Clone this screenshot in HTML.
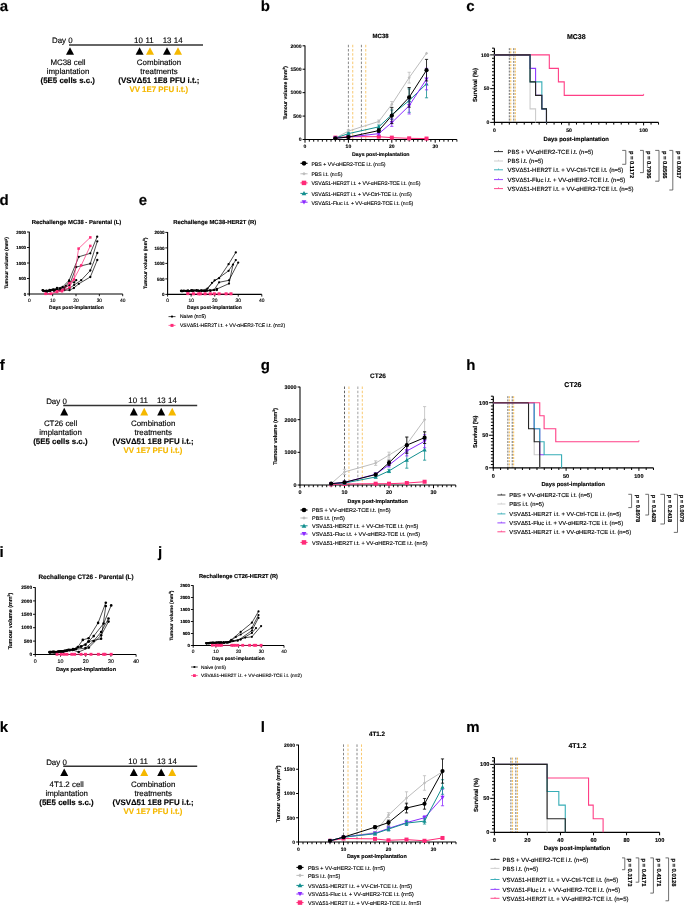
<!DOCTYPE html>
<html><head><meta charset="utf-8"><title>Figure</title>
<style>
html,body{margin:0;padding:0;background:#fff;}
body{width:685px;height:905px;overflow:hidden;}
svg text{stroke:currentColor;stroke-width:0.14px;}
svg{display:block;font-family:"Liberation Sans",sans-serif;will-change:transform;text-rendering:geometricPrecision;}
</style></head><body>
<svg width="685" height="905" viewBox="0 0 685 905">
<rect width="685" height="905" fill="#fff"/>
<text x="-0.3" y="10.8" font-size="15" font-weight="bold">a</text>
<text x="260.8" y="10.8" font-size="15" font-weight="bold">b</text>
<text x="466.3" y="10.8" font-size="15" font-weight="bold">c</text>
<text x="-0.6" y="204.5" font-size="15" font-weight="bold">d</text>
<text x="138.8" y="204.7" font-size="15" font-weight="bold">e</text>
<text x="-0.3" y="370" font-size="15" font-weight="bold">f</text>
<text x="260.8" y="370" font-size="15" font-weight="bold">g</text>
<text x="466.3" y="370" font-size="15" font-weight="bold">h</text>
<text x="-0.6" y="557" font-size="15" font-weight="bold">i</text>
<text x="158" y="557" font-size="15" font-weight="bold">j</text>
<text x="-0.3" y="731.6" font-size="15" font-weight="bold">k</text>
<text x="260.8" y="731.6" font-size="15" font-weight="bold">l</text>
<text x="466.3" y="731.6" font-size="15" font-weight="bold">m</text>
<line x1="69" y1="45" x2="203" y2="45" stroke="#333333" stroke-width="1.5"/>
<text x="72.6" y="43.4" font-size="7.9" text-anchor="end">Day 0</text>
<text x="138.5" y="42.6" font-size="7.9" text-anchor="middle">10</text>
<text x="149.6" y="42.6" font-size="7.9" text-anchor="middle">11</text>
<text x="167.1" y="42.6" font-size="7.9" text-anchor="middle">13</text>
<text x="178.2" y="42.6" font-size="7.9" text-anchor="middle">14</text>
<polygon points="70,47.2 74,54.8 66,54.8" fill="#000"/>
<polygon points="139.6,47.2 143.6,54.8 135.6,54.8" fill="#000"/>
<polygon points="150,47.2 154,54.8 146,54.8" fill="#f5b800"/>
<polygon points="167,47.2 171,54.8 163,54.8" fill="#000"/>
<polygon points="178,47.2 182,54.8 174,54.8" fill="#f5b800"/>
<text x="68" y="65.4" font-size="7.9" text-anchor="middle">MC38 cell</text>
<text x="68" y="74.4" font-size="7.9" text-anchor="middle">implantation</text>
<text x="67.8" y="83.4" font-size="7.9" font-weight="bold" text-anchor="middle">(5E5 cells s.c.)</text>
<text x="159" y="65.2" font-size="7.9" text-anchor="middle">Combination</text>
<text x="159" y="74.4" font-size="7.9" text-anchor="middle">treatments</text>
<text x="158.9" y="83.4" font-size="7.9" font-weight="bold" text-anchor="middle">(VSVΔ51 1E8 PFU i.t.;</text>
<text x="158.8" y="92.4" font-size="7.9" font-weight="bold" text-anchor="middle" fill="#f5b800" style="color:#f5b800">VV 1E7 PFU i.t.)</text>
<line x1="63.2" y1="405.6" x2="197.2" y2="405.6" stroke="#333333" stroke-width="1.5"/>
<text x="66.8" y="404" font-size="7.9" text-anchor="end">Day 0</text>
<text x="132.7" y="403.2" font-size="7.9" text-anchor="middle">10</text>
<text x="143.8" y="403.2" font-size="7.9" text-anchor="middle">11</text>
<text x="161.3" y="403.2" font-size="7.9" text-anchor="middle">13</text>
<text x="172.4" y="403.2" font-size="7.9" text-anchor="middle">14</text>
<polygon points="64.2,407.8 68.2,415.4 60.2,415.4" fill="#000"/>
<polygon points="133.8,407.8 137.8,415.4 129.8,415.4" fill="#000"/>
<polygon points="144.2,407.8 148.2,415.4 140.2,415.4" fill="#f5b800"/>
<polygon points="161.2,407.8 165.2,415.4 157.2,415.4" fill="#000"/>
<polygon points="172.2,407.8 176.2,415.4 168.2,415.4" fill="#f5b800"/>
<text x="60.6" y="426" font-size="7.9" text-anchor="middle">CT26 cell</text>
<text x="60.6" y="435" font-size="7.9" text-anchor="middle">implantation</text>
<text x="60.4" y="444" font-size="7.9" font-weight="bold" text-anchor="middle">(5E5 cells s.c.)</text>
<text x="153.2" y="425.8" font-size="7.9" text-anchor="middle">Combination</text>
<text x="153.2" y="435" font-size="7.9" text-anchor="middle">treatments</text>
<text x="153.1" y="444" font-size="7.9" font-weight="bold" text-anchor="middle">(VSVΔ51 1E8 PFU i.t.;</text>
<text x="153" y="453" font-size="7.9" font-weight="bold" text-anchor="middle" fill="#f5b800" style="color:#f5b800">VV 1E7 PFU i.t.)</text>
<line x1="63.2" y1="766.3" x2="197.2" y2="766.3" stroke="#333333" stroke-width="1.5"/>
<text x="66.8" y="764.7" font-size="7.9" text-anchor="end">Day 0</text>
<text x="132.7" y="763.9" font-size="7.9" text-anchor="middle">10</text>
<text x="143.8" y="763.9" font-size="7.9" text-anchor="middle">11</text>
<text x="161.3" y="763.9" font-size="7.9" text-anchor="middle">13</text>
<text x="172.4" y="763.9" font-size="7.9" text-anchor="middle">14</text>
<polygon points="64.2,768.5 68.2,776.1 60.2,776.1" fill="#000"/>
<polygon points="133.8,768.5 137.8,776.1 129.8,776.1" fill="#000"/>
<polygon points="144.2,768.5 148.2,776.1 140.2,776.1" fill="#f5b800"/>
<polygon points="161.2,768.5 165.2,776.1 157.2,776.1" fill="#000"/>
<polygon points="172.2,768.5 176.2,776.1 168.2,776.1" fill="#f5b800"/>
<text x="66.7" y="786.7" font-size="7.9" text-anchor="middle">4T1.2 cell</text>
<text x="66.7" y="795.7" font-size="7.9" text-anchor="middle">implantation</text>
<text x="66.5" y="804.7" font-size="7.9" font-weight="bold" text-anchor="middle">(5E5 cells s.c.)</text>
<text x="153.2" y="786.5" font-size="7.9" text-anchor="middle">Combination</text>
<text x="153.2" y="795.7" font-size="7.9" text-anchor="middle">treatments</text>
<text x="153.1" y="804.7" font-size="7.9" font-weight="bold" text-anchor="middle">(VSVΔ51 1E8 PFU i.t.;</text>
<text x="153" y="813.7" font-size="7.9" font-weight="bold" text-anchor="middle" fill="#f5b800" style="color:#f5b800">VV 1E7 PFU i.t.)</text>
<line x1="348.4" y1="44.8" x2="348.4" y2="139.5" stroke="#555555" stroke-width="0.7" stroke-dasharray="2.5,1.7"/>
<line x1="352.74" y1="44.8" x2="352.74" y2="139.5" stroke="#f7b233" stroke-width="0.7" stroke-dasharray="2.5,1.7"/>
<line x1="361.42" y1="44.8" x2="361.42" y2="139.5" stroke="#555555" stroke-width="0.7" stroke-dasharray="2.5,1.7"/>
<line x1="365.76" y1="44.8" x2="365.76" y2="139.5" stroke="#f7b233" stroke-width="0.7" stroke-dasharray="2.5,1.7"/>
<line x1="305" y1="45.5" x2="305" y2="140.03" stroke="#000000" stroke-width="1.05"/>
<line x1="302.6" y1="139.5" x2="305" y2="139.5" stroke="#000000" stroke-width="1"/>
<text x="301.6" y="141.3" font-size="5" font-weight="bold" text-anchor="end">0</text>
<line x1="302.6" y1="116.08" x2="305" y2="116.08" stroke="#000000" stroke-width="1"/>
<text x="301.6" y="117.88" font-size="5" font-weight="bold" text-anchor="end">500</text>
<line x1="302.6" y1="92.65" x2="305" y2="92.65" stroke="#000000" stroke-width="1"/>
<text x="301.6" y="94.45" font-size="5" font-weight="bold" text-anchor="end">1000</text>
<line x1="302.6" y1="69.22" x2="305" y2="69.22" stroke="#000000" stroke-width="1"/>
<text x="301.6" y="71.02" font-size="5" font-weight="bold" text-anchor="end">1500</text>
<line x1="302.6" y1="45.8" x2="305" y2="45.8" stroke="#000000" stroke-width="1"/>
<text x="301.6" y="47.6" font-size="5" font-weight="bold" text-anchor="end">2000</text>
<line x1="304.48" y1="139.5" x2="456.9" y2="139.5" stroke="#000000" stroke-width="1.05"/>
<line x1="305" y1="139.5" x2="305" y2="142.7" stroke="#000000" stroke-width="1"/>
<text x="305" y="148.3" font-size="5" font-weight="bold" text-anchor="middle">0</text>
<line x1="309.34" y1="139.5" x2="309.34" y2="141.7" stroke="#000000" stroke-width="0.95"/>
<line x1="313.68" y1="139.5" x2="313.68" y2="141.7" stroke="#000000" stroke-width="0.95"/>
<line x1="318.02" y1="139.5" x2="318.02" y2="141.7" stroke="#000000" stroke-width="0.95"/>
<line x1="322.36" y1="139.5" x2="322.36" y2="141.7" stroke="#000000" stroke-width="0.95"/>
<line x1="326.7" y1="139.5" x2="326.7" y2="141.7" stroke="#000000" stroke-width="0.95"/>
<line x1="331.04" y1="139.5" x2="331.04" y2="141.7" stroke="#000000" stroke-width="0.95"/>
<line x1="335.38" y1="139.5" x2="335.38" y2="141.7" stroke="#000000" stroke-width="0.95"/>
<line x1="339.72" y1="139.5" x2="339.72" y2="141.7" stroke="#000000" stroke-width="0.95"/>
<line x1="344.06" y1="139.5" x2="344.06" y2="141.7" stroke="#000000" stroke-width="0.95"/>
<line x1="348.4" y1="139.5" x2="348.4" y2="142.7" stroke="#000000" stroke-width="1"/>
<text x="348.4" y="148.3" font-size="5" font-weight="bold" text-anchor="middle">10</text>
<line x1="352.74" y1="139.5" x2="352.74" y2="141.7" stroke="#000000" stroke-width="0.95"/>
<line x1="357.08" y1="139.5" x2="357.08" y2="141.7" stroke="#000000" stroke-width="0.95"/>
<line x1="361.42" y1="139.5" x2="361.42" y2="141.7" stroke="#000000" stroke-width="0.95"/>
<line x1="365.76" y1="139.5" x2="365.76" y2="141.7" stroke="#000000" stroke-width="0.95"/>
<line x1="370.1" y1="139.5" x2="370.1" y2="141.7" stroke="#000000" stroke-width="0.95"/>
<line x1="374.44" y1="139.5" x2="374.44" y2="141.7" stroke="#000000" stroke-width="0.95"/>
<line x1="378.78" y1="139.5" x2="378.78" y2="141.7" stroke="#000000" stroke-width="0.95"/>
<line x1="383.12" y1="139.5" x2="383.12" y2="141.7" stroke="#000000" stroke-width="0.95"/>
<line x1="387.46" y1="139.5" x2="387.46" y2="141.7" stroke="#000000" stroke-width="0.95"/>
<line x1="391.8" y1="139.5" x2="391.8" y2="142.7" stroke="#000000" stroke-width="1"/>
<text x="391.8" y="148.3" font-size="5" font-weight="bold" text-anchor="middle">20</text>
<line x1="396.14" y1="139.5" x2="396.14" y2="141.7" stroke="#000000" stroke-width="0.95"/>
<line x1="400.48" y1="139.5" x2="400.48" y2="141.7" stroke="#000000" stroke-width="0.95"/>
<line x1="404.82" y1="139.5" x2="404.82" y2="141.7" stroke="#000000" stroke-width="0.95"/>
<line x1="409.16" y1="139.5" x2="409.16" y2="141.7" stroke="#000000" stroke-width="0.95"/>
<line x1="413.5" y1="139.5" x2="413.5" y2="141.7" stroke="#000000" stroke-width="0.95"/>
<line x1="417.84" y1="139.5" x2="417.84" y2="141.7" stroke="#000000" stroke-width="0.95"/>
<line x1="422.18" y1="139.5" x2="422.18" y2="141.7" stroke="#000000" stroke-width="0.95"/>
<line x1="426.52" y1="139.5" x2="426.52" y2="141.7" stroke="#000000" stroke-width="0.95"/>
<line x1="430.86" y1="139.5" x2="430.86" y2="141.7" stroke="#000000" stroke-width="0.95"/>
<line x1="435.2" y1="139.5" x2="435.2" y2="142.7" stroke="#000000" stroke-width="1"/>
<text x="435.2" y="148.3" font-size="5" font-weight="bold" text-anchor="middle">30</text>
<line x1="439.54" y1="139.5" x2="439.54" y2="141.7" stroke="#000000" stroke-width="0.95"/>
<line x1="443.88" y1="139.5" x2="443.88" y2="141.7" stroke="#000000" stroke-width="0.95"/>
<line x1="448.22" y1="139.5" x2="448.22" y2="141.7" stroke="#000000" stroke-width="0.95"/>
<line x1="452.56" y1="139.5" x2="452.56" y2="141.7" stroke="#000000" stroke-width="0.95"/>
<line x1="456.9" y1="139.5" x2="456.9" y2="141.7" stroke="#000000" stroke-width="0.95"/>
<text x="380.6" y="38" font-size="6" font-weight="bold" text-anchor="middle">MC38</text>
<text x="380.8" y="156" font-size="5.2" font-weight="bold" text-anchor="middle">Days post-implantation</text>
<text x="286.94" y="92.8" font-size="5.1" font-weight="bold" text-anchor="middle" transform="rotate(-90 286.94 92.8)">Tumour volume (mm<tspan font-size="3.31" dy="-1.78">3</tspan><tspan dy="1.78">)</tspan></text>
<line x1="335.38" y1="137.86" x2="335.38" y2="138.33" stroke="#bdbdbd" stroke-width="0.8"/>
<line x1="333.78" y1="137.86" x2="336.98" y2="137.86" stroke="#bdbdbd" stroke-width="0.8"/>
<line x1="333.78" y1="138.33" x2="336.98" y2="138.33" stroke="#bdbdbd" stroke-width="0.8"/>
<line x1="348.4" y1="129.66" x2="348.4" y2="132.47" stroke="#bdbdbd" stroke-width="0.8"/>
<line x1="346.8" y1="129.66" x2="350" y2="129.66" stroke="#bdbdbd" stroke-width="0.8"/>
<line x1="346.8" y1="132.47" x2="350" y2="132.47" stroke="#bdbdbd" stroke-width="0.8"/>
<line x1="378.78" y1="120.06" x2="378.78" y2="122.87" stroke="#bdbdbd" stroke-width="0.8"/>
<line x1="377.18" y1="120.06" x2="380.38" y2="120.06" stroke="#bdbdbd" stroke-width="0.8"/>
<line x1="377.18" y1="122.87" x2="380.38" y2="122.87" stroke="#bdbdbd" stroke-width="0.8"/>
<line x1="391.8" y1="101.55" x2="391.8" y2="107.17" stroke="#bdbdbd" stroke-width="0.8"/>
<line x1="390.2" y1="101.55" x2="393.4" y2="101.55" stroke="#bdbdbd" stroke-width="0.8"/>
<line x1="390.2" y1="107.17" x2="393.4" y2="107.17" stroke="#bdbdbd" stroke-width="0.8"/>
<line x1="409.16" y1="72.27" x2="409.16" y2="83.05" stroke="#bdbdbd" stroke-width="0.8"/>
<line x1="407.56" y1="72.27" x2="410.76" y2="72.27" stroke="#bdbdbd" stroke-width="0.8"/>
<line x1="407.56" y1="83.05" x2="410.76" y2="83.05" stroke="#bdbdbd" stroke-width="0.8"/>
<polyline points="335.38,138.09 348.4,131.07 378.78,121.46 391.8,104.36 409.16,77.66 426.52,53.3" fill="none" stroke="#bdbdbd" stroke-width="1" stroke-linejoin="miter"/>
<polygon points="335.38,136.49 336.98,138.09 335.38,139.69 333.78,138.09" fill="#bdbdbd"/>
<polygon points="348.4,129.47 350,131.07 348.4,132.67 346.8,131.07" fill="#bdbdbd"/>
<polygon points="378.78,119.86 380.38,121.46 378.78,123.06 377.18,121.46" fill="#bdbdbd"/>
<polygon points="391.8,102.76 393.4,104.36 391.8,105.96 390.2,104.36" fill="#bdbdbd"/>
<polygon points="409.16,76.06 410.76,77.66 409.16,79.26 407.56,77.66" fill="#bdbdbd"/>
<polygon points="426.52,51.7 428.12,53.3 426.52,54.9 424.92,53.3" fill="#bdbdbd"/>
<line x1="335.38" y1="137.25" x2="335.38" y2="138" stroke="#ff2a78" stroke-width="0.8"/>
<line x1="333.78" y1="137.25" x2="336.98" y2="137.25" stroke="#ff2a78" stroke-width="0.8"/>
<line x1="333.78" y1="138" x2="336.98" y2="138" stroke="#ff2a78" stroke-width="0.8"/>
<line x1="348.4" y1="136.22" x2="348.4" y2="137.16" stroke="#ff2a78" stroke-width="0.8"/>
<line x1="346.8" y1="136.22" x2="350" y2="136.22" stroke="#ff2a78" stroke-width="0.8"/>
<line x1="346.8" y1="137.16" x2="350" y2="137.16" stroke="#ff2a78" stroke-width="0.8"/>
<line x1="378.78" y1="135.99" x2="378.78" y2="137.39" stroke="#ff2a78" stroke-width="0.8"/>
<line x1="377.18" y1="135.99" x2="380.38" y2="135.99" stroke="#ff2a78" stroke-width="0.8"/>
<line x1="377.18" y1="137.39" x2="380.38" y2="137.39" stroke="#ff2a78" stroke-width="0.8"/>
<line x1="391.8" y1="137.16" x2="391.8" y2="138.09" stroke="#ff2a78" stroke-width="0.8"/>
<line x1="390.2" y1="137.16" x2="393.4" y2="137.16" stroke="#ff2a78" stroke-width="0.8"/>
<line x1="390.2" y1="138.09" x2="393.4" y2="138.09" stroke="#ff2a78" stroke-width="0.8"/>
<line x1="409.16" y1="138.09" x2="409.16" y2="138.56" stroke="#ff2a78" stroke-width="0.8"/>
<line x1="407.56" y1="138.09" x2="410.76" y2="138.09" stroke="#ff2a78" stroke-width="0.8"/>
<line x1="407.56" y1="138.56" x2="410.76" y2="138.56" stroke="#ff2a78" stroke-width="0.8"/>
<line x1="426.52" y1="138.33" x2="426.52" y2="138.8" stroke="#ff2a78" stroke-width="0.8"/>
<line x1="424.92" y1="138.33" x2="428.12" y2="138.33" stroke="#ff2a78" stroke-width="0.8"/>
<line x1="424.92" y1="138.8" x2="428.12" y2="138.8" stroke="#ff2a78" stroke-width="0.8"/>
<polyline points="335.38,137.63 348.4,136.69 378.78,136.69 391.8,137.63 409.16,138.33 426.52,138.56" fill="none" stroke="#ff2a78" stroke-width="1" stroke-linejoin="miter"/>
<rect x="333.38" y="135.63" width="4" height="4" fill="#ff2a78"/>
<rect x="346.4" y="134.69" width="4" height="4" fill="#ff2a78"/>
<rect x="376.78" y="134.69" width="4" height="4" fill="#ff2a78"/>
<rect x="389.8" y="135.63" width="4" height="4" fill="#ff2a78"/>
<rect x="407.16" y="136.33" width="4" height="4" fill="#ff2a78"/>
<rect x="424.52" y="136.56" width="4" height="4" fill="#ff2a78"/>
<line x1="335.38" y1="137.86" x2="335.38" y2="138.33" stroke="#128f8f" stroke-width="0.8"/>
<line x1="333.78" y1="137.86" x2="336.98" y2="137.86" stroke="#128f8f" stroke-width="0.8"/>
<line x1="333.78" y1="138.33" x2="336.98" y2="138.33" stroke="#128f8f" stroke-width="0.8"/>
<line x1="348.4" y1="132.71" x2="348.4" y2="134.58" stroke="#128f8f" stroke-width="0.8"/>
<line x1="346.8" y1="132.71" x2="350" y2="132.71" stroke="#128f8f" stroke-width="0.8"/>
<line x1="346.8" y1="134.58" x2="350" y2="134.58" stroke="#128f8f" stroke-width="0.8"/>
<line x1="378.78" y1="124.98" x2="378.78" y2="128.72" stroke="#128f8f" stroke-width="0.8"/>
<line x1="377.18" y1="124.98" x2="380.38" y2="124.98" stroke="#128f8f" stroke-width="0.8"/>
<line x1="377.18" y1="128.72" x2="380.38" y2="128.72" stroke="#128f8f" stroke-width="0.8"/>
<line x1="391.8" y1="109.98" x2="391.8" y2="119.35" stroke="#128f8f" stroke-width="0.8"/>
<line x1="390.2" y1="109.98" x2="393.4" y2="109.98" stroke="#128f8f" stroke-width="0.8"/>
<line x1="390.2" y1="119.35" x2="393.4" y2="119.35" stroke="#128f8f" stroke-width="0.8"/>
<line x1="409.16" y1="88.9" x2="409.16" y2="112.33" stroke="#128f8f" stroke-width="0.8"/>
<line x1="407.56" y1="88.9" x2="410.76" y2="88.9" stroke="#128f8f" stroke-width="0.8"/>
<line x1="407.56" y1="112.33" x2="410.76" y2="112.33" stroke="#128f8f" stroke-width="0.8"/>
<line x1="426.52" y1="69.69" x2="426.52" y2="97.8" stroke="#128f8f" stroke-width="0.8"/>
<line x1="424.92" y1="69.69" x2="428.12" y2="69.69" stroke="#128f8f" stroke-width="0.8"/>
<line x1="424.92" y1="97.8" x2="428.12" y2="97.8" stroke="#128f8f" stroke-width="0.8"/>
<polyline points="335.38,138.09 348.4,133.64 378.78,126.85 391.8,114.67 409.16,100.61 426.52,83.75" fill="none" stroke="#128f8f" stroke-width="1" stroke-linejoin="miter"/>
<polygon points="335.38,135.99 337.48,139.77 333.28,139.77" fill="#128f8f"/>
<polygon points="348.4,131.54 350.5,135.32 346.3,135.32" fill="#128f8f"/>
<polygon points="378.78,124.75 380.88,128.53 376.68,128.53" fill="#128f8f"/>
<polygon points="391.8,112.57 393.9,116.35 389.7,116.35" fill="#128f8f"/>
<polygon points="409.16,98.51 411.26,102.29 407.06,102.29" fill="#128f8f"/>
<polygon points="426.52,81.65 428.62,85.43 424.42,85.43" fill="#128f8f"/>
<line x1="335.38" y1="137.86" x2="335.38" y2="138.33" stroke="#8c2cff" stroke-width="0.8"/>
<line x1="333.78" y1="137.86" x2="336.98" y2="137.86" stroke="#8c2cff" stroke-width="0.8"/>
<line x1="333.78" y1="138.33" x2="336.98" y2="138.33" stroke="#8c2cff" stroke-width="0.8"/>
<line x1="348.4" y1="136.69" x2="348.4" y2="137.63" stroke="#8c2cff" stroke-width="0.8"/>
<line x1="346.8" y1="136.69" x2="350" y2="136.69" stroke="#8c2cff" stroke-width="0.8"/>
<line x1="346.8" y1="137.63" x2="350" y2="137.63" stroke="#8c2cff" stroke-width="0.8"/>
<line x1="378.78" y1="132.24" x2="378.78" y2="135.05" stroke="#8c2cff" stroke-width="0.8"/>
<line x1="377.18" y1="132.24" x2="380.38" y2="132.24" stroke="#8c2cff" stroke-width="0.8"/>
<line x1="377.18" y1="135.05" x2="380.38" y2="135.05" stroke="#8c2cff" stroke-width="0.8"/>
<line x1="391.8" y1="118.89" x2="391.8" y2="126.38" stroke="#8c2cff" stroke-width="0.8"/>
<line x1="390.2" y1="118.89" x2="393.4" y2="118.89" stroke="#8c2cff" stroke-width="0.8"/>
<line x1="390.2" y1="126.38" x2="393.4" y2="126.38" stroke="#8c2cff" stroke-width="0.8"/>
<line x1="409.16" y1="97.57" x2="409.16" y2="113.97" stroke="#8c2cff" stroke-width="0.8"/>
<line x1="407.56" y1="97.57" x2="410.76" y2="97.57" stroke="#8c2cff" stroke-width="0.8"/>
<line x1="407.56" y1="113.97" x2="410.76" y2="113.97" stroke="#8c2cff" stroke-width="0.8"/>
<line x1="426.52" y1="68.29" x2="426.52" y2="89.84" stroke="#8c2cff" stroke-width="0.8"/>
<line x1="424.92" y1="68.29" x2="428.12" y2="68.29" stroke="#8c2cff" stroke-width="0.8"/>
<line x1="424.92" y1="89.84" x2="428.12" y2="89.84" stroke="#8c2cff" stroke-width="0.8"/>
<polyline points="335.38,138.09 348.4,137.16 378.78,133.64 391.8,122.63 409.16,105.77 426.52,79.06" fill="none" stroke="#8c2cff" stroke-width="1" stroke-linejoin="miter"/>
<polygon points="335.38,140.19 337.48,136.41 333.28,136.41" fill="#8c2cff"/>
<polygon points="348.4,139.26 350.5,135.48 346.3,135.48" fill="#8c2cff"/>
<polygon points="378.78,135.74 380.88,131.96 376.68,131.96" fill="#8c2cff"/>
<polygon points="391.8,124.73 393.9,120.95 389.7,120.95" fill="#8c2cff"/>
<polygon points="409.16,107.87 411.26,104.09 407.06,104.09" fill="#8c2cff"/>
<polygon points="426.52,81.16 428.62,77.38 424.42,77.38" fill="#8c2cff"/>
<line x1="335.38" y1="137.81" x2="335.38" y2="138.75" stroke="#000000" stroke-width="0.8"/>
<line x1="333.78" y1="137.81" x2="336.98" y2="137.81" stroke="#000000" stroke-width="0.8"/>
<line x1="333.78" y1="138.75" x2="336.98" y2="138.75" stroke="#000000" stroke-width="0.8"/>
<line x1="348.4" y1="136.36" x2="348.4" y2="137.77" stroke="#000000" stroke-width="0.8"/>
<line x1="346.8" y1="136.36" x2="350" y2="136.36" stroke="#000000" stroke-width="0.8"/>
<line x1="346.8" y1="137.77" x2="350" y2="137.77" stroke="#000000" stroke-width="0.8"/>
<line x1="378.78" y1="128.72" x2="378.78" y2="132.47" stroke="#000000" stroke-width="0.8"/>
<line x1="377.18" y1="128.72" x2="380.38" y2="128.72" stroke="#000000" stroke-width="0.8"/>
<line x1="377.18" y1="132.47" x2="380.38" y2="132.47" stroke="#000000" stroke-width="0.8"/>
<line x1="391.8" y1="107.64" x2="391.8" y2="123.57" stroke="#000000" stroke-width="0.8"/>
<line x1="390.2" y1="107.64" x2="393.4" y2="107.64" stroke="#000000" stroke-width="0.8"/>
<line x1="390.2" y1="123.57" x2="393.4" y2="123.57" stroke="#000000" stroke-width="0.8"/>
<line x1="409.16" y1="87.5" x2="409.16" y2="107.17" stroke="#000000" stroke-width="0.8"/>
<line x1="407.56" y1="87.5" x2="410.76" y2="87.5" stroke="#000000" stroke-width="0.8"/>
<line x1="407.56" y1="107.17" x2="410.76" y2="107.17" stroke="#000000" stroke-width="0.8"/>
<line x1="426.52" y1="59.39" x2="426.52" y2="80.94" stroke="#000000" stroke-width="0.8"/>
<line x1="424.92" y1="59.39" x2="428.12" y2="59.39" stroke="#000000" stroke-width="0.8"/>
<line x1="424.92" y1="80.94" x2="428.12" y2="80.94" stroke="#000000" stroke-width="0.8"/>
<polyline points="335.38,138.28 348.4,137.06 378.78,130.6 391.8,115.61 409.16,97.34 426.52,70.16" fill="none" stroke="#000000" stroke-width="1" stroke-linejoin="miter"/>
<circle cx="335.38" cy="138.28" r="2.1" fill="#000000"/>
<circle cx="348.4" cy="137.06" r="2.1" fill="#000000"/>
<circle cx="378.78" cy="130.6" r="2.1" fill="#000000"/>
<circle cx="391.8" cy="115.61" r="2.1" fill="#000000"/>
<circle cx="409.16" cy="97.34" r="2.1" fill="#000000"/>
<circle cx="426.52" cy="70.16" r="2.1" fill="#000000"/>
<line x1="300.4" y1="163.3" x2="307.6" y2="163.3" stroke="#000000" stroke-width="1"/>
<circle cx="304" cy="163.3" r="2.35" fill="#000000"/>
<text x="311.4" y="165.62" font-size="5.2">PBS + VV-αHER2-TCE i.t. (n=5)</text>
<line x1="300.4" y1="173.8" x2="307.6" y2="173.8" stroke="#bdbdbd" stroke-width="1"/>
<polygon points="304,172.01 305.79,173.8 304,175.59 302.21,173.8" fill="#bdbdbd"/>
<text x="311.4" y="176.12" font-size="5.2">PBS i.t. (n=5)</text>
<line x1="300.4" y1="182.9" x2="307.6" y2="182.9" stroke="#ff2a78" stroke-width="1"/>
<rect x="301.76" y="180.66" width="4.48" height="4.48" fill="#ff2a78"/>
<text x="311.4" y="185.22" font-size="5.2">VSVΔ51-HER2T i.t. + VV-αHER2-TCE i.t. (n=5)</text>
<line x1="300.4" y1="193.4" x2="307.6" y2="193.4" stroke="#128f8f" stroke-width="1"/>
<polygon points="304,191.05 306.35,195.28 301.65,195.28" fill="#128f8f"/>
<text x="311.4" y="195.72" font-size="5.2">VSVΔ51-HER2T i.t. + VV-Ctrl-TCE i.t. (n=5)</text>
<line x1="300.4" y1="202.2" x2="307.6" y2="202.2" stroke="#8c2cff" stroke-width="1"/>
<polygon points="304,204.55 306.35,200.32 301.65,200.32" fill="#8c2cff"/>
<text x="311.4" y="204.52" font-size="5.2">VSVΔ51-Fluc i.t. + VV-αHER2-TCE i.t. (n=5)</text>
<line x1="344.5" y1="386.5" x2="344.5" y2="485" stroke="#222222" stroke-width="0.7" stroke-dasharray="2.5,1.7"/>
<line x1="348.95" y1="386.5" x2="348.95" y2="485" stroke="#f7b233" stroke-width="0.7" stroke-dasharray="2.5,1.7"/>
<line x1="357.85" y1="386.5" x2="357.85" y2="485" stroke="#777777" stroke-width="0.7" stroke-dasharray="2.5,1.7"/>
<line x1="362.3" y1="386.5" x2="362.3" y2="485" stroke="#f7b233" stroke-width="0.7" stroke-dasharray="2.5,1.7"/>
<line x1="300" y1="386.7" x2="300" y2="485.52" stroke="#000000" stroke-width="1.05"/>
<line x1="297.6" y1="485" x2="300" y2="485" stroke="#000000" stroke-width="1"/>
<text x="296.6" y="486.94" font-size="5.4" font-weight="bold" text-anchor="end">0</text>
<line x1="297.6" y1="452.33" x2="300" y2="452.33" stroke="#000000" stroke-width="1"/>
<text x="296.6" y="454.28" font-size="5.4" font-weight="bold" text-anchor="end">1000</text>
<line x1="297.6" y1="419.67" x2="300" y2="419.67" stroke="#000000" stroke-width="1"/>
<text x="296.6" y="421.61" font-size="5.4" font-weight="bold" text-anchor="end">2000</text>
<line x1="297.6" y1="387" x2="300" y2="387" stroke="#000000" stroke-width="1"/>
<text x="296.6" y="388.94" font-size="5.4" font-weight="bold" text-anchor="end">3000</text>
<line x1="299.48" y1="485" x2="455.75" y2="485" stroke="#000000" stroke-width="1.05"/>
<line x1="300" y1="485" x2="300" y2="488.2" stroke="#000000" stroke-width="1"/>
<text x="300" y="493.8" font-size="5.4" font-weight="bold" text-anchor="middle">0</text>
<line x1="304.45" y1="485" x2="304.45" y2="487.2" stroke="#000000" stroke-width="0.95"/>
<line x1="308.9" y1="485" x2="308.9" y2="487.2" stroke="#000000" stroke-width="0.95"/>
<line x1="313.35" y1="485" x2="313.35" y2="487.2" stroke="#000000" stroke-width="0.95"/>
<line x1="317.8" y1="485" x2="317.8" y2="487.2" stroke="#000000" stroke-width="0.95"/>
<line x1="322.25" y1="485" x2="322.25" y2="487.2" stroke="#000000" stroke-width="0.95"/>
<line x1="326.7" y1="485" x2="326.7" y2="487.2" stroke="#000000" stroke-width="0.95"/>
<line x1="331.15" y1="485" x2="331.15" y2="487.2" stroke="#000000" stroke-width="0.95"/>
<line x1="335.6" y1="485" x2="335.6" y2="487.2" stroke="#000000" stroke-width="0.95"/>
<line x1="340.05" y1="485" x2="340.05" y2="487.2" stroke="#000000" stroke-width="0.95"/>
<line x1="344.5" y1="485" x2="344.5" y2="488.2" stroke="#000000" stroke-width="1"/>
<text x="344.5" y="493.8" font-size="5.4" font-weight="bold" text-anchor="middle">10</text>
<line x1="348.95" y1="485" x2="348.95" y2="487.2" stroke="#000000" stroke-width="0.95"/>
<line x1="353.4" y1="485" x2="353.4" y2="487.2" stroke="#000000" stroke-width="0.95"/>
<line x1="357.85" y1="485" x2="357.85" y2="487.2" stroke="#000000" stroke-width="0.95"/>
<line x1="362.3" y1="485" x2="362.3" y2="487.2" stroke="#000000" stroke-width="0.95"/>
<line x1="366.75" y1="485" x2="366.75" y2="487.2" stroke="#000000" stroke-width="0.95"/>
<line x1="371.2" y1="485" x2="371.2" y2="487.2" stroke="#000000" stroke-width="0.95"/>
<line x1="375.65" y1="485" x2="375.65" y2="487.2" stroke="#000000" stroke-width="0.95"/>
<line x1="380.1" y1="485" x2="380.1" y2="487.2" stroke="#000000" stroke-width="0.95"/>
<line x1="384.55" y1="485" x2="384.55" y2="487.2" stroke="#000000" stroke-width="0.95"/>
<line x1="389" y1="485" x2="389" y2="488.2" stroke="#000000" stroke-width="1"/>
<text x="389" y="493.8" font-size="5.4" font-weight="bold" text-anchor="middle">20</text>
<line x1="393.45" y1="485" x2="393.45" y2="487.2" stroke="#000000" stroke-width="0.95"/>
<line x1="397.9" y1="485" x2="397.9" y2="487.2" stroke="#000000" stroke-width="0.95"/>
<line x1="402.35" y1="485" x2="402.35" y2="487.2" stroke="#000000" stroke-width="0.95"/>
<line x1="406.8" y1="485" x2="406.8" y2="487.2" stroke="#000000" stroke-width="0.95"/>
<line x1="411.25" y1="485" x2="411.25" y2="487.2" stroke="#000000" stroke-width="0.95"/>
<line x1="415.7" y1="485" x2="415.7" y2="487.2" stroke="#000000" stroke-width="0.95"/>
<line x1="420.15" y1="485" x2="420.15" y2="487.2" stroke="#000000" stroke-width="0.95"/>
<line x1="424.6" y1="485" x2="424.6" y2="487.2" stroke="#000000" stroke-width="0.95"/>
<line x1="429.05" y1="485" x2="429.05" y2="487.2" stroke="#000000" stroke-width="0.95"/>
<line x1="433.5" y1="485" x2="433.5" y2="488.2" stroke="#000000" stroke-width="1"/>
<text x="433.5" y="493.8" font-size="5.4" font-weight="bold" text-anchor="middle">30</text>
<line x1="437.95" y1="485" x2="437.95" y2="487.2" stroke="#000000" stroke-width="0.95"/>
<line x1="442.4" y1="485" x2="442.4" y2="487.2" stroke="#000000" stroke-width="0.95"/>
<line x1="446.85" y1="485" x2="446.85" y2="487.2" stroke="#000000" stroke-width="0.95"/>
<line x1="451.3" y1="485" x2="451.3" y2="487.2" stroke="#000000" stroke-width="0.95"/>
<line x1="455.75" y1="485" x2="455.75" y2="487.2" stroke="#000000" stroke-width="0.95"/>
<text x="378" y="378" font-size="6.5" font-weight="bold" text-anchor="middle">CT26</text>
<text x="377.7" y="502.6" font-size="5.48" font-weight="bold" text-anchor="middle">Days post-implantation</text>
<text x="276.94" y="436.3" font-size="5.4" font-weight="bold" text-anchor="middle" transform="rotate(-90 276.94 436.3)">Tumour volume (mm<tspan font-size="3.51" dy="-1.89">3</tspan><tspan dy="1.89">)</tspan></text>
<line x1="331.15" y1="483.37" x2="331.15" y2="484.02" stroke="#bdbdbd" stroke-width="0.8"/>
<line x1="329.55" y1="483.37" x2="332.75" y2="483.37" stroke="#bdbdbd" stroke-width="0.8"/>
<line x1="329.55" y1="484.02" x2="332.75" y2="484.02" stroke="#bdbdbd" stroke-width="0.8"/>
<line x1="344.5" y1="469.32" x2="344.5" y2="474.55" stroke="#bdbdbd" stroke-width="0.8"/>
<line x1="342.9" y1="469.32" x2="346.1" y2="469.32" stroke="#bdbdbd" stroke-width="0.8"/>
<line x1="342.9" y1="474.55" x2="346.1" y2="474.55" stroke="#bdbdbd" stroke-width="0.8"/>
<line x1="375.65" y1="460.83" x2="375.65" y2="465.4" stroke="#bdbdbd" stroke-width="0.8"/>
<line x1="374.05" y1="460.83" x2="377.25" y2="460.83" stroke="#bdbdbd" stroke-width="0.8"/>
<line x1="374.05" y1="465.4" x2="377.25" y2="465.4" stroke="#bdbdbd" stroke-width="0.8"/>
<line x1="389" y1="452.17" x2="389" y2="458.05" stroke="#bdbdbd" stroke-width="0.8"/>
<line x1="387.4" y1="452.17" x2="390.6" y2="452.17" stroke="#bdbdbd" stroke-width="0.8"/>
<line x1="387.4" y1="458.05" x2="390.6" y2="458.05" stroke="#bdbdbd" stroke-width="0.8"/>
<line x1="406.8" y1="437.63" x2="406.8" y2="450.7" stroke="#bdbdbd" stroke-width="0.8"/>
<line x1="405.2" y1="437.63" x2="408.4" y2="437.63" stroke="#bdbdbd" stroke-width="0.8"/>
<line x1="405.2" y1="450.7" x2="408.4" y2="450.7" stroke="#bdbdbd" stroke-width="0.8"/>
<line x1="424.6" y1="406.6" x2="424.6" y2="432.73" stroke="#bdbdbd" stroke-width="0.8"/>
<line x1="423" y1="406.6" x2="426.2" y2="406.6" stroke="#bdbdbd" stroke-width="0.8"/>
<line x1="423" y1="432.73" x2="426.2" y2="432.73" stroke="#bdbdbd" stroke-width="0.8"/>
<polyline points="331.15,483.69 344.5,471.93 375.65,463.11 389,455.11 406.8,444.17 424.6,419.67" fill="none" stroke="#bdbdbd" stroke-width="1" stroke-linejoin="miter"/>
<polygon points="331.15,482.09 332.75,483.69 331.15,485.29 329.55,483.69" fill="#bdbdbd"/>
<polygon points="344.5,470.33 346.1,471.93 344.5,473.53 342.9,471.93" fill="#bdbdbd"/>
<polygon points="375.65,461.51 377.25,463.11 375.65,464.71 374.05,463.11" fill="#bdbdbd"/>
<polygon points="389,453.51 390.6,455.11 389,456.71 387.4,455.11" fill="#bdbdbd"/>
<polygon points="406.8,442.57 408.4,444.17 406.8,445.77 405.2,444.17" fill="#bdbdbd"/>
<polygon points="424.6,418.07 426.2,419.67 424.6,421.27 423,419.67" fill="#bdbdbd"/>
<line x1="331.15" y1="484.18" x2="331.15" y2="484.51" stroke="#ff2a78" stroke-width="0.8"/>
<line x1="329.55" y1="484.18" x2="332.75" y2="484.18" stroke="#ff2a78" stroke-width="0.8"/>
<line x1="329.55" y1="484.51" x2="332.75" y2="484.51" stroke="#ff2a78" stroke-width="0.8"/>
<line x1="344.5" y1="483.86" x2="344.5" y2="484.18" stroke="#ff2a78" stroke-width="0.8"/>
<line x1="342.9" y1="483.86" x2="346.1" y2="483.86" stroke="#ff2a78" stroke-width="0.8"/>
<line x1="342.9" y1="484.18" x2="346.1" y2="484.18" stroke="#ff2a78" stroke-width="0.8"/>
<line x1="375.65" y1="483.37" x2="375.65" y2="484.02" stroke="#ff2a78" stroke-width="0.8"/>
<line x1="374.05" y1="483.37" x2="377.25" y2="483.37" stroke="#ff2a78" stroke-width="0.8"/>
<line x1="374.05" y1="484.02" x2="377.25" y2="484.02" stroke="#ff2a78" stroke-width="0.8"/>
<line x1="389" y1="483.37" x2="389" y2="484.02" stroke="#ff2a78" stroke-width="0.8"/>
<line x1="387.4" y1="483.37" x2="390.6" y2="483.37" stroke="#ff2a78" stroke-width="0.8"/>
<line x1="387.4" y1="484.02" x2="390.6" y2="484.02" stroke="#ff2a78" stroke-width="0.8"/>
<line x1="406.8" y1="482.55" x2="406.8" y2="483.53" stroke="#ff2a78" stroke-width="0.8"/>
<line x1="405.2" y1="482.55" x2="408.4" y2="482.55" stroke="#ff2a78" stroke-width="0.8"/>
<line x1="405.2" y1="483.53" x2="408.4" y2="483.53" stroke="#ff2a78" stroke-width="0.8"/>
<line x1="424.6" y1="481.08" x2="424.6" y2="482.39" stroke="#ff2a78" stroke-width="0.8"/>
<line x1="423" y1="481.08" x2="426.2" y2="481.08" stroke="#ff2a78" stroke-width="0.8"/>
<line x1="423" y1="482.39" x2="426.2" y2="482.39" stroke="#ff2a78" stroke-width="0.8"/>
<polyline points="331.15,484.35 344.5,484.02 375.65,483.69 389,483.69 406.8,483.04 424.6,481.73" fill="none" stroke="#ff2a78" stroke-width="1" stroke-linejoin="miter"/>
<rect x="329.15" y="482.35" width="4" height="4" fill="#ff2a78"/>
<rect x="342.5" y="482.02" width="4" height="4" fill="#ff2a78"/>
<rect x="373.65" y="481.69" width="4" height="4" fill="#ff2a78"/>
<rect x="387" y="481.69" width="4" height="4" fill="#ff2a78"/>
<rect x="404.8" y="481.04" width="4" height="4" fill="#ff2a78"/>
<rect x="422.6" y="479.73" width="4" height="4" fill="#ff2a78"/>
<line x1="331.15" y1="483.37" x2="331.15" y2="484.02" stroke="#128f8f" stroke-width="0.8"/>
<line x1="329.55" y1="483.37" x2="332.75" y2="483.37" stroke="#128f8f" stroke-width="0.8"/>
<line x1="329.55" y1="484.02" x2="332.75" y2="484.02" stroke="#128f8f" stroke-width="0.8"/>
<line x1="344.5" y1="482.71" x2="344.5" y2="483.37" stroke="#128f8f" stroke-width="0.8"/>
<line x1="342.9" y1="482.71" x2="346.1" y2="482.71" stroke="#128f8f" stroke-width="0.8"/>
<line x1="342.9" y1="483.37" x2="346.1" y2="483.37" stroke="#128f8f" stroke-width="0.8"/>
<line x1="375.65" y1="476.02" x2="375.65" y2="477.98" stroke="#128f8f" stroke-width="0.8"/>
<line x1="374.05" y1="476.02" x2="377.25" y2="476.02" stroke="#128f8f" stroke-width="0.8"/>
<line x1="374.05" y1="477.98" x2="377.25" y2="477.98" stroke="#128f8f" stroke-width="0.8"/>
<line x1="389" y1="469.32" x2="389" y2="472.59" stroke="#128f8f" stroke-width="0.8"/>
<line x1="387.4" y1="469.32" x2="390.6" y2="469.32" stroke="#128f8f" stroke-width="0.8"/>
<line x1="387.4" y1="472.59" x2="390.6" y2="472.59" stroke="#128f8f" stroke-width="0.8"/>
<line x1="406.8" y1="451.84" x2="406.8" y2="468.18" stroke="#128f8f" stroke-width="0.8"/>
<line x1="405.2" y1="451.84" x2="408.4" y2="451.84" stroke="#128f8f" stroke-width="0.8"/>
<line x1="405.2" y1="468.18" x2="408.4" y2="468.18" stroke="#128f8f" stroke-width="0.8"/>
<line x1="424.6" y1="439.27" x2="424.6" y2="460.17" stroke="#128f8f" stroke-width="0.8"/>
<line x1="423" y1="439.27" x2="426.2" y2="439.27" stroke="#128f8f" stroke-width="0.8"/>
<line x1="423" y1="460.17" x2="426.2" y2="460.17" stroke="#128f8f" stroke-width="0.8"/>
<polyline points="331.15,483.69 344.5,483.04 375.65,477 389,470.95 406.8,460.01 424.6,449.72" fill="none" stroke="#128f8f" stroke-width="1" stroke-linejoin="miter"/>
<polygon points="331.15,481.59 333.25,485.37 329.05,485.37" fill="#128f8f"/>
<polygon points="344.5,480.94 346.6,484.72 342.4,484.72" fill="#128f8f"/>
<polygon points="375.65,474.9 377.75,478.68 373.55,478.68" fill="#128f8f"/>
<polygon points="389,468.85 391.1,472.63 386.9,472.63" fill="#128f8f"/>
<polygon points="406.8,457.91 408.9,461.69 404.7,461.69" fill="#128f8f"/>
<polygon points="424.6,447.62 426.7,451.4 422.5,451.4" fill="#128f8f"/>
<line x1="331.15" y1="483.37" x2="331.15" y2="484.02" stroke="#8c2cff" stroke-width="0.8"/>
<line x1="329.55" y1="483.37" x2="332.75" y2="483.37" stroke="#8c2cff" stroke-width="0.8"/>
<line x1="329.55" y1="484.02" x2="332.75" y2="484.02" stroke="#8c2cff" stroke-width="0.8"/>
<line x1="344.5" y1="481.9" x2="344.5" y2="482.88" stroke="#8c2cff" stroke-width="0.8"/>
<line x1="342.9" y1="481.9" x2="346.1" y2="481.9" stroke="#8c2cff" stroke-width="0.8"/>
<line x1="342.9" y1="482.88" x2="346.1" y2="482.88" stroke="#8c2cff" stroke-width="0.8"/>
<line x1="375.65" y1="473.24" x2="375.65" y2="475.2" stroke="#8c2cff" stroke-width="0.8"/>
<line x1="374.05" y1="473.24" x2="377.25" y2="473.24" stroke="#8c2cff" stroke-width="0.8"/>
<line x1="374.05" y1="475.2" x2="377.25" y2="475.2" stroke="#8c2cff" stroke-width="0.8"/>
<line x1="389" y1="463.11" x2="389" y2="467.03" stroke="#8c2cff" stroke-width="0.8"/>
<line x1="387.4" y1="463.11" x2="390.6" y2="463.11" stroke="#8c2cff" stroke-width="0.8"/>
<line x1="387.4" y1="467.03" x2="390.6" y2="467.03" stroke="#8c2cff" stroke-width="0.8"/>
<line x1="406.8" y1="446.13" x2="406.8" y2="455.93" stroke="#8c2cff" stroke-width="0.8"/>
<line x1="405.2" y1="446.13" x2="408.4" y2="446.13" stroke="#8c2cff" stroke-width="0.8"/>
<line x1="405.2" y1="455.93" x2="408.4" y2="455.93" stroke="#8c2cff" stroke-width="0.8"/>
<line x1="424.6" y1="434.69" x2="424.6" y2="447.76" stroke="#8c2cff" stroke-width="0.8"/>
<line x1="423" y1="434.69" x2="426.2" y2="434.69" stroke="#8c2cff" stroke-width="0.8"/>
<line x1="423" y1="447.76" x2="426.2" y2="447.76" stroke="#8c2cff" stroke-width="0.8"/>
<polyline points="331.15,483.69 344.5,482.39 375.65,474.22 389,465.07 406.8,451.03 424.6,441.23" fill="none" stroke="#8c2cff" stroke-width="1" stroke-linejoin="miter"/>
<polygon points="331.15,485.79 333.25,482.01 329.05,482.01" fill="#8c2cff"/>
<polygon points="344.5,484.49 346.6,480.71 342.4,480.71" fill="#8c2cff"/>
<polygon points="375.65,476.32 377.75,472.54 373.55,472.54" fill="#8c2cff"/>
<polygon points="389,467.17 391.1,463.39 386.9,463.39" fill="#8c2cff"/>
<polygon points="406.8,453.13 408.9,449.35 404.7,449.35" fill="#8c2cff"/>
<polygon points="424.6,443.33 426.7,439.55 422.5,439.55" fill="#8c2cff"/>
<line x1="331.15" y1="483.37" x2="331.15" y2="484.02" stroke="#000000" stroke-width="0.8"/>
<line x1="329.55" y1="483.37" x2="332.75" y2="483.37" stroke="#000000" stroke-width="0.8"/>
<line x1="329.55" y1="484.02" x2="332.75" y2="484.02" stroke="#000000" stroke-width="0.8"/>
<line x1="344.5" y1="481.9" x2="344.5" y2="482.88" stroke="#000000" stroke-width="0.8"/>
<line x1="342.9" y1="481.9" x2="346.1" y2="481.9" stroke="#000000" stroke-width="0.8"/>
<line x1="342.9" y1="482.88" x2="346.1" y2="482.88" stroke="#000000" stroke-width="0.8"/>
<line x1="375.65" y1="473.24" x2="375.65" y2="475.85" stroke="#000000" stroke-width="0.8"/>
<line x1="374.05" y1="473.24" x2="377.25" y2="473.24" stroke="#000000" stroke-width="0.8"/>
<line x1="374.05" y1="475.85" x2="377.25" y2="475.85" stroke="#000000" stroke-width="0.8"/>
<line x1="389" y1="460.17" x2="389" y2="465.4" stroke="#000000" stroke-width="0.8"/>
<line x1="387.4" y1="460.17" x2="390.6" y2="460.17" stroke="#000000" stroke-width="0.8"/>
<line x1="387.4" y1="465.4" x2="390.6" y2="465.4" stroke="#000000" stroke-width="0.8"/>
<line x1="406.8" y1="436.98" x2="406.8" y2="453.31" stroke="#000000" stroke-width="0.8"/>
<line x1="405.2" y1="436.98" x2="408.4" y2="436.98" stroke="#000000" stroke-width="0.8"/>
<line x1="405.2" y1="453.31" x2="408.4" y2="453.31" stroke="#000000" stroke-width="0.8"/>
<line x1="424.6" y1="431.75" x2="424.6" y2="443.51" stroke="#000000" stroke-width="0.8"/>
<line x1="423" y1="431.75" x2="426.2" y2="431.75" stroke="#000000" stroke-width="0.8"/>
<line x1="423" y1="443.51" x2="426.2" y2="443.51" stroke="#000000" stroke-width="0.8"/>
<polyline points="331.15,483.69 344.5,482.39 375.65,474.55 389,462.79 406.8,445.15 424.6,437.63" fill="none" stroke="#000000" stroke-width="1" stroke-linejoin="miter"/>
<circle cx="331.15" cy="483.69" r="2.1" fill="#000000"/>
<circle cx="344.5" cy="482.39" r="2.1" fill="#000000"/>
<circle cx="375.65" cy="474.55" r="2.1" fill="#000000"/>
<circle cx="389" cy="462.79" r="2.1" fill="#000000"/>
<circle cx="406.8" cy="445.15" r="2.1" fill="#000000"/>
<circle cx="424.6" cy="437.63" r="2.1" fill="#000000"/>
<line x1="300.4" y1="510" x2="307.6" y2="510" stroke="#000000" stroke-width="1"/>
<circle cx="304" cy="510" r="2.35" fill="#000000"/>
<text x="312" y="512.43" font-size="5.5">PBS + VV-αHER2-TCE i.t. (n=5)</text>
<line x1="300.4" y1="518" x2="307.6" y2="518" stroke="#bdbdbd" stroke-width="1"/>
<polygon points="304,516.21 305.79,518 304,519.79 302.21,518" fill="#bdbdbd"/>
<text x="312" y="520.43" font-size="5.5">PBS i.t. (n=5)</text>
<line x1="300.4" y1="525.8" x2="307.6" y2="525.8" stroke="#128f8f" stroke-width="1"/>
<polygon points="304,523.45 306.35,527.68 301.65,527.68" fill="#128f8f"/>
<text x="312" y="528.23" font-size="5.5">VSVΔ51-HER2T i.t. + VV-Ctrl-TCE i.t. (n=5)</text>
<line x1="300.4" y1="534" x2="307.6" y2="534" stroke="#8c2cff" stroke-width="1"/>
<polygon points="304,536.35 306.35,532.12 301.65,532.12" fill="#8c2cff"/>
<text x="312" y="536.43" font-size="5.5">VSVΔ51-Fluc i.t. + VV-αHER2-TCE i.t. (n=5)</text>
<line x1="300.4" y1="542.4" x2="307.6" y2="542.4" stroke="#ff2a78" stroke-width="1"/>
<rect x="301.76" y="540.16" width="4.48" height="4.48" fill="#ff2a78"/>
<text x="312" y="544.83" font-size="5.5">VSVΔ51-HER2T i.t. + VV-αHER2-TCE i.t. (n=5)</text>
<line x1="343.5" y1="744.4" x2="343.5" y2="842" stroke="#555555" stroke-width="0.7" stroke-dasharray="2.5,1.7"/>
<line x1="348" y1="744.4" x2="348" y2="842" stroke="#f7b233" stroke-width="0.7" stroke-dasharray="2.5,1.7"/>
<line x1="357" y1="744.4" x2="357" y2="842" stroke="#555555" stroke-width="0.7" stroke-dasharray="2.5,1.7"/>
<line x1="361.5" y1="744.4" x2="361.5" y2="842" stroke="#f7b233" stroke-width="0.7" stroke-dasharray="2.5,1.7"/>
<line x1="298.5" y1="744.7" x2="298.5" y2="842.52" stroke="#000000" stroke-width="1.05"/>
<line x1="296.1" y1="842" x2="298.5" y2="842" stroke="#000000" stroke-width="1"/>
<text x="295.1" y="843.8" font-size="5" font-weight="bold" text-anchor="end">0</text>
<line x1="296.1" y1="817.75" x2="298.5" y2="817.75" stroke="#000000" stroke-width="1"/>
<text x="295.1" y="819.55" font-size="5" font-weight="bold" text-anchor="end">500</text>
<line x1="296.1" y1="793.5" x2="298.5" y2="793.5" stroke="#000000" stroke-width="1"/>
<text x="295.1" y="795.3" font-size="5" font-weight="bold" text-anchor="end">1000</text>
<line x1="296.1" y1="769.25" x2="298.5" y2="769.25" stroke="#000000" stroke-width="1"/>
<text x="295.1" y="771.05" font-size="5" font-weight="bold" text-anchor="end">1500</text>
<line x1="296.1" y1="745" x2="298.5" y2="745" stroke="#000000" stroke-width="1"/>
<text x="295.1" y="746.8" font-size="5" font-weight="bold" text-anchor="end">2000</text>
<line x1="297.98" y1="842" x2="456" y2="842" stroke="#000000" stroke-width="1.05"/>
<line x1="298.5" y1="842" x2="298.5" y2="845.2" stroke="#000000" stroke-width="1"/>
<text x="298.5" y="850.8" font-size="5" font-weight="bold" text-anchor="middle">0</text>
<line x1="303" y1="842" x2="303" y2="844.2" stroke="#000000" stroke-width="0.95"/>
<line x1="307.5" y1="842" x2="307.5" y2="844.2" stroke="#000000" stroke-width="0.95"/>
<line x1="312" y1="842" x2="312" y2="844.2" stroke="#000000" stroke-width="0.95"/>
<line x1="316.5" y1="842" x2="316.5" y2="844.2" stroke="#000000" stroke-width="0.95"/>
<line x1="321" y1="842" x2="321" y2="844.2" stroke="#000000" stroke-width="0.95"/>
<line x1="325.5" y1="842" x2="325.5" y2="844.2" stroke="#000000" stroke-width="0.95"/>
<line x1="330" y1="842" x2="330" y2="844.2" stroke="#000000" stroke-width="0.95"/>
<line x1="334.5" y1="842" x2="334.5" y2="844.2" stroke="#000000" stroke-width="0.95"/>
<line x1="339" y1="842" x2="339" y2="844.2" stroke="#000000" stroke-width="0.95"/>
<line x1="343.5" y1="842" x2="343.5" y2="845.2" stroke="#000000" stroke-width="1"/>
<text x="343.5" y="850.8" font-size="5" font-weight="bold" text-anchor="middle">10</text>
<line x1="348" y1="842" x2="348" y2="844.2" stroke="#000000" stroke-width="0.95"/>
<line x1="352.5" y1="842" x2="352.5" y2="844.2" stroke="#000000" stroke-width="0.95"/>
<line x1="357" y1="842" x2="357" y2="844.2" stroke="#000000" stroke-width="0.95"/>
<line x1="361.5" y1="842" x2="361.5" y2="844.2" stroke="#000000" stroke-width="0.95"/>
<line x1="366" y1="842" x2="366" y2="844.2" stroke="#000000" stroke-width="0.95"/>
<line x1="370.5" y1="842" x2="370.5" y2="844.2" stroke="#000000" stroke-width="0.95"/>
<line x1="375" y1="842" x2="375" y2="844.2" stroke="#000000" stroke-width="0.95"/>
<line x1="379.5" y1="842" x2="379.5" y2="844.2" stroke="#000000" stroke-width="0.95"/>
<line x1="384" y1="842" x2="384" y2="844.2" stroke="#000000" stroke-width="0.95"/>
<line x1="388.5" y1="842" x2="388.5" y2="845.2" stroke="#000000" stroke-width="1"/>
<text x="388.5" y="850.8" font-size="5" font-weight="bold" text-anchor="middle">20</text>
<line x1="393" y1="842" x2="393" y2="844.2" stroke="#000000" stroke-width="0.95"/>
<line x1="397.5" y1="842" x2="397.5" y2="844.2" stroke="#000000" stroke-width="0.95"/>
<line x1="402" y1="842" x2="402" y2="844.2" stroke="#000000" stroke-width="0.95"/>
<line x1="406.5" y1="842" x2="406.5" y2="844.2" stroke="#000000" stroke-width="0.95"/>
<line x1="411" y1="842" x2="411" y2="844.2" stroke="#000000" stroke-width="0.95"/>
<line x1="415.5" y1="842" x2="415.5" y2="844.2" stroke="#000000" stroke-width="0.95"/>
<line x1="420" y1="842" x2="420" y2="844.2" stroke="#000000" stroke-width="0.95"/>
<line x1="424.5" y1="842" x2="424.5" y2="844.2" stroke="#000000" stroke-width="0.95"/>
<line x1="429" y1="842" x2="429" y2="844.2" stroke="#000000" stroke-width="0.95"/>
<line x1="433.5" y1="842" x2="433.5" y2="845.2" stroke="#000000" stroke-width="1"/>
<text x="433.5" y="850.8" font-size="5" font-weight="bold" text-anchor="middle">30</text>
<line x1="438" y1="842" x2="438" y2="844.2" stroke="#000000" stroke-width="0.95"/>
<line x1="442.5" y1="842" x2="442.5" y2="844.2" stroke="#000000" stroke-width="0.95"/>
<line x1="447" y1="842" x2="447" y2="844.2" stroke="#000000" stroke-width="0.95"/>
<line x1="451.5" y1="842" x2="451.5" y2="844.2" stroke="#000000" stroke-width="0.95"/>
<line x1="456" y1="842" x2="456" y2="844.2" stroke="#000000" stroke-width="0.95"/>
<text x="377" y="736" font-size="6.3" font-weight="bold" text-anchor="middle">4T1.2</text>
<text x="376.8" y="858" font-size="5.41" font-weight="bold" text-anchor="middle">Days post-implantation</text>
<text x="279.84" y="793.9" font-size="5.4" font-weight="bold" text-anchor="middle" transform="rotate(-90 279.84 793.9)">Tumour volume (mm<tspan font-size="3.51" dy="-1.89">3</tspan><tspan dy="1.89">)</tspan></text>
<line x1="330" y1="840.55" x2="330" y2="841.03" stroke="#bdbdbd" stroke-width="0.8"/>
<line x1="328.4" y1="840.55" x2="331.6" y2="840.55" stroke="#bdbdbd" stroke-width="0.8"/>
<line x1="328.4" y1="841.03" x2="331.6" y2="841.03" stroke="#bdbdbd" stroke-width="0.8"/>
<line x1="343.5" y1="836.66" x2="343.5" y2="837.63" stroke="#bdbdbd" stroke-width="0.8"/>
<line x1="341.9" y1="836.66" x2="345.1" y2="836.66" stroke="#bdbdbd" stroke-width="0.8"/>
<line x1="341.9" y1="837.63" x2="345.1" y2="837.63" stroke="#bdbdbd" stroke-width="0.8"/>
<line x1="375" y1="831.57" x2="375" y2="833.51" stroke="#bdbdbd" stroke-width="0.8"/>
<line x1="373.4" y1="831.57" x2="376.6" y2="831.57" stroke="#bdbdbd" stroke-width="0.8"/>
<line x1="373.4" y1="833.51" x2="376.6" y2="833.51" stroke="#bdbdbd" stroke-width="0.8"/>
<line x1="388.5" y1="812.66" x2="388.5" y2="817.51" stroke="#bdbdbd" stroke-width="0.8"/>
<line x1="386.9" y1="812.66" x2="390.1" y2="812.66" stroke="#bdbdbd" stroke-width="0.8"/>
<line x1="386.9" y1="817.51" x2="390.1" y2="817.51" stroke="#bdbdbd" stroke-width="0.8"/>
<line x1="406.5" y1="791.8" x2="406.5" y2="804.41" stroke="#bdbdbd" stroke-width="0.8"/>
<line x1="404.9" y1="791.8" x2="408.1" y2="791.8" stroke="#bdbdbd" stroke-width="0.8"/>
<line x1="404.9" y1="804.41" x2="408.1" y2="804.41" stroke="#bdbdbd" stroke-width="0.8"/>
<line x1="424.5" y1="775.7" x2="424.5" y2="790.25" stroke="#bdbdbd" stroke-width="0.8"/>
<line x1="422.9" y1="775.7" x2="426.1" y2="775.7" stroke="#bdbdbd" stroke-width="0.8"/>
<line x1="422.9" y1="790.25" x2="426.1" y2="790.25" stroke="#bdbdbd" stroke-width="0.8"/>
<polyline points="330,840.79 343.5,837.15 375,832.54 388.5,815.08 406.5,798.11 424.5,782.98 442.5,771.77" fill="none" stroke="#bdbdbd" stroke-width="1" stroke-linejoin="miter"/>
<polygon points="330,839.19 331.6,840.79 330,842.39 328.4,840.79" fill="#bdbdbd"/>
<polygon points="343.5,835.55 345.1,837.15 343.5,838.75 341.9,837.15" fill="#bdbdbd"/>
<polygon points="375,830.94 376.6,832.54 375,834.14 373.4,832.54" fill="#bdbdbd"/>
<polygon points="388.5,813.48 390.1,815.08 388.5,816.68 386.9,815.08" fill="#bdbdbd"/>
<polygon points="406.5,796.51 408.1,798.11 406.5,799.71 404.9,798.11" fill="#bdbdbd"/>
<polygon points="424.5,781.38 426.1,782.98 424.5,784.58 422.9,782.98" fill="#bdbdbd"/>
<polygon points="442.5,770.17 444.1,771.77 442.5,773.37 440.9,771.77" fill="#bdbdbd"/>
<line x1="330" y1="840.55" x2="330" y2="841.03" stroke="#ff2a78" stroke-width="0.8"/>
<line x1="328.4" y1="840.55" x2="331.6" y2="840.55" stroke="#ff2a78" stroke-width="0.8"/>
<line x1="328.4" y1="841.03" x2="331.6" y2="841.03" stroke="#ff2a78" stroke-width="0.8"/>
<line x1="343.5" y1="838.12" x2="343.5" y2="838.9" stroke="#ff2a78" stroke-width="0.8"/>
<line x1="341.9" y1="838.12" x2="345.1" y2="838.12" stroke="#ff2a78" stroke-width="0.8"/>
<line x1="341.9" y1="838.9" x2="345.1" y2="838.9" stroke="#ff2a78" stroke-width="0.8"/>
<line x1="375" y1="838.51" x2="375" y2="839.28" stroke="#ff2a78" stroke-width="0.8"/>
<line x1="373.4" y1="838.51" x2="376.6" y2="838.51" stroke="#ff2a78" stroke-width="0.8"/>
<line x1="373.4" y1="839.28" x2="376.6" y2="839.28" stroke="#ff2a78" stroke-width="0.8"/>
<line x1="388.5" y1="839.91" x2="388.5" y2="840.69" stroke="#ff2a78" stroke-width="0.8"/>
<line x1="386.9" y1="839.91" x2="390.1" y2="839.91" stroke="#ff2a78" stroke-width="0.8"/>
<line x1="386.9" y1="840.69" x2="390.1" y2="840.69" stroke="#ff2a78" stroke-width="0.8"/>
<line x1="406.5" y1="839.19" x2="406.5" y2="839.96" stroke="#ff2a78" stroke-width="0.8"/>
<line x1="404.9" y1="839.19" x2="408.1" y2="839.19" stroke="#ff2a78" stroke-width="0.8"/>
<line x1="404.9" y1="839.96" x2="408.1" y2="839.96" stroke="#ff2a78" stroke-width="0.8"/>
<line x1="424.5" y1="840.55" x2="424.5" y2="841.03" stroke="#ff2a78" stroke-width="0.8"/>
<line x1="422.9" y1="840.55" x2="426.1" y2="840.55" stroke="#ff2a78" stroke-width="0.8"/>
<line x1="422.9" y1="841.03" x2="426.1" y2="841.03" stroke="#ff2a78" stroke-width="0.8"/>
<line x1="442.5" y1="837.49" x2="442.5" y2="838.46" stroke="#ff2a78" stroke-width="0.8"/>
<line x1="440.9" y1="837.49" x2="444.1" y2="837.49" stroke="#ff2a78" stroke-width="0.8"/>
<line x1="440.9" y1="838.46" x2="444.1" y2="838.46" stroke="#ff2a78" stroke-width="0.8"/>
<polyline points="330,840.79 343.5,838.51 375,838.9 388.5,840.3 406.5,839.58 424.5,840.79 442.5,837.97" fill="none" stroke="#ff2a78" stroke-width="1" stroke-linejoin="miter"/>
<rect x="328" y="838.79" width="4" height="4" fill="#ff2a78"/>
<rect x="341.5" y="836.51" width="4" height="4" fill="#ff2a78"/>
<rect x="373" y="836.9" width="4" height="4" fill="#ff2a78"/>
<rect x="386.5" y="838.3" width="4" height="4" fill="#ff2a78"/>
<rect x="404.5" y="837.58" width="4" height="4" fill="#ff2a78"/>
<rect x="422.5" y="838.79" width="4" height="4" fill="#ff2a78"/>
<rect x="440.5" y="835.97" width="4" height="4" fill="#ff2a78"/>
<line x1="330" y1="840.55" x2="330" y2="841.03" stroke="#8c2cff" stroke-width="0.8"/>
<line x1="328.4" y1="840.55" x2="331.6" y2="840.55" stroke="#8c2cff" stroke-width="0.8"/>
<line x1="328.4" y1="841.03" x2="331.6" y2="841.03" stroke="#8c2cff" stroke-width="0.8"/>
<line x1="343.5" y1="836.66" x2="343.5" y2="837.63" stroke="#8c2cff" stroke-width="0.8"/>
<line x1="341.9" y1="836.66" x2="345.1" y2="836.66" stroke="#8c2cff" stroke-width="0.8"/>
<line x1="341.9" y1="837.63" x2="345.1" y2="837.63" stroke="#8c2cff" stroke-width="0.8"/>
<line x1="375" y1="832.3" x2="375" y2="834.24" stroke="#8c2cff" stroke-width="0.8"/>
<line x1="373.4" y1="832.3" x2="376.6" y2="832.3" stroke="#8c2cff" stroke-width="0.8"/>
<line x1="373.4" y1="834.24" x2="376.6" y2="834.24" stroke="#8c2cff" stroke-width="0.8"/>
<line x1="388.5" y1="826.48" x2="388.5" y2="830.36" stroke="#8c2cff" stroke-width="0.8"/>
<line x1="386.9" y1="826.48" x2="390.1" y2="826.48" stroke="#8c2cff" stroke-width="0.8"/>
<line x1="386.9" y1="830.36" x2="390.1" y2="830.36" stroke="#8c2cff" stroke-width="0.8"/>
<line x1="406.5" y1="820.18" x2="406.5" y2="825.02" stroke="#8c2cff" stroke-width="0.8"/>
<line x1="404.9" y1="820.18" x2="408.1" y2="820.18" stroke="#8c2cff" stroke-width="0.8"/>
<line x1="404.9" y1="825.02" x2="408.1" y2="825.02" stroke="#8c2cff" stroke-width="0.8"/>
<line x1="424.5" y1="815.81" x2="424.5" y2="819.69" stroke="#8c2cff" stroke-width="0.8"/>
<line x1="422.9" y1="815.81" x2="426.1" y2="815.81" stroke="#8c2cff" stroke-width="0.8"/>
<line x1="422.9" y1="819.69" x2="426.1" y2="819.69" stroke="#8c2cff" stroke-width="0.8"/>
<line x1="442.5" y1="789.28" x2="442.5" y2="805.77" stroke="#8c2cff" stroke-width="0.8"/>
<line x1="440.9" y1="789.28" x2="444.1" y2="789.28" stroke="#8c2cff" stroke-width="0.8"/>
<line x1="440.9" y1="805.77" x2="444.1" y2="805.77" stroke="#8c2cff" stroke-width="0.8"/>
<polyline points="330,840.79 343.5,837.15 375,833.27 388.5,828.42 406.5,822.6 424.5,817.75 442.5,797.53" fill="none" stroke="#8c2cff" stroke-width="1" stroke-linejoin="miter"/>
<polygon points="330,842.89 332.1,839.11 327.9,839.11" fill="#8c2cff"/>
<polygon points="343.5,839.25 345.6,835.47 341.4,835.47" fill="#8c2cff"/>
<polygon points="375,835.37 377.1,831.59 372.9,831.59" fill="#8c2cff"/>
<polygon points="388.5,830.52 390.6,826.74 386.4,826.74" fill="#8c2cff"/>
<polygon points="406.5,824.7 408.6,820.92 404.4,820.92" fill="#8c2cff"/>
<polygon points="424.5,819.85 426.6,816.07 422.4,816.07" fill="#8c2cff"/>
<polygon points="442.5,799.63 444.6,795.85 440.4,795.85" fill="#8c2cff"/>
<line x1="330" y1="840.55" x2="330" y2="841.03" stroke="#128f8f" stroke-width="0.8"/>
<line x1="328.4" y1="840.55" x2="331.6" y2="840.55" stroke="#128f8f" stroke-width="0.8"/>
<line x1="328.4" y1="841.03" x2="331.6" y2="841.03" stroke="#128f8f" stroke-width="0.8"/>
<line x1="343.5" y1="836.66" x2="343.5" y2="837.63" stroke="#128f8f" stroke-width="0.8"/>
<line x1="341.9" y1="836.66" x2="345.1" y2="836.66" stroke="#128f8f" stroke-width="0.8"/>
<line x1="341.9" y1="837.63" x2="345.1" y2="837.63" stroke="#128f8f" stroke-width="0.8"/>
<line x1="375" y1="832.78" x2="375" y2="834.73" stroke="#128f8f" stroke-width="0.8"/>
<line x1="373.4" y1="832.78" x2="376.6" y2="832.78" stroke="#128f8f" stroke-width="0.8"/>
<line x1="373.4" y1="834.73" x2="376.6" y2="834.73" stroke="#128f8f" stroke-width="0.8"/>
<line x1="388.5" y1="827.11" x2="388.5" y2="830.99" stroke="#128f8f" stroke-width="0.8"/>
<line x1="386.9" y1="827.11" x2="390.1" y2="827.11" stroke="#128f8f" stroke-width="0.8"/>
<line x1="386.9" y1="830.99" x2="390.1" y2="830.99" stroke="#128f8f" stroke-width="0.8"/>
<line x1="406.5" y1="820.66" x2="406.5" y2="825.51" stroke="#128f8f" stroke-width="0.8"/>
<line x1="404.9" y1="820.66" x2="408.1" y2="820.66" stroke="#128f8f" stroke-width="0.8"/>
<line x1="404.9" y1="825.51" x2="408.1" y2="825.51" stroke="#128f8f" stroke-width="0.8"/>
<line x1="424.5" y1="818.24" x2="424.5" y2="824.05" stroke="#128f8f" stroke-width="0.8"/>
<line x1="422.9" y1="818.24" x2="426.1" y2="818.24" stroke="#128f8f" stroke-width="0.8"/>
<line x1="422.9" y1="824.05" x2="426.1" y2="824.05" stroke="#128f8f" stroke-width="0.8"/>
<line x1="442.5" y1="779.73" x2="442.5" y2="794.28" stroke="#128f8f" stroke-width="0.8"/>
<line x1="440.9" y1="779.73" x2="444.1" y2="779.73" stroke="#128f8f" stroke-width="0.8"/>
<line x1="440.9" y1="794.28" x2="444.1" y2="794.28" stroke="#128f8f" stroke-width="0.8"/>
<polyline points="330,840.79 343.5,837.15 375,833.75 388.5,829.05 406.5,823.09 424.5,821.14 442.5,787" fill="none" stroke="#128f8f" stroke-width="1" stroke-linejoin="miter"/>
<polygon points="330,838.69 332.1,842.47 327.9,842.47" fill="#128f8f"/>
<polygon points="343.5,835.05 345.6,838.83 341.4,838.83" fill="#128f8f"/>
<polygon points="375,831.65 377.1,835.43 372.9,835.43" fill="#128f8f"/>
<polygon points="388.5,826.95 390.6,830.73 386.4,830.73" fill="#128f8f"/>
<polygon points="406.5,820.99 408.6,824.76 404.4,824.76" fill="#128f8f"/>
<polygon points="424.5,819.04 426.6,822.82 422.4,822.82" fill="#128f8f"/>
<polygon points="442.5,784.9 444.6,788.68 440.4,788.68" fill="#128f8f"/>
<line x1="330" y1="840.55" x2="330" y2="841.03" stroke="#000000" stroke-width="0.8"/>
<line x1="328.4" y1="840.55" x2="331.6" y2="840.55" stroke="#000000" stroke-width="0.8"/>
<line x1="328.4" y1="841.03" x2="331.6" y2="841.03" stroke="#000000" stroke-width="0.8"/>
<line x1="343.5" y1="836.42" x2="343.5" y2="837.88" stroke="#000000" stroke-width="0.8"/>
<line x1="341.9" y1="836.42" x2="345.1" y2="836.42" stroke="#000000" stroke-width="0.8"/>
<line x1="341.9" y1="837.88" x2="345.1" y2="837.88" stroke="#000000" stroke-width="0.8"/>
<line x1="375" y1="825.75" x2="375" y2="828.66" stroke="#000000" stroke-width="0.8"/>
<line x1="373.4" y1="825.75" x2="376.6" y2="825.75" stroke="#000000" stroke-width="0.8"/>
<line x1="373.4" y1="828.66" x2="376.6" y2="828.66" stroke="#000000" stroke-width="0.8"/>
<line x1="388.5" y1="820.18" x2="388.5" y2="825.02" stroke="#000000" stroke-width="0.8"/>
<line x1="386.9" y1="820.18" x2="390.1" y2="820.18" stroke="#000000" stroke-width="0.8"/>
<line x1="386.9" y1="825.02" x2="390.1" y2="825.02" stroke="#000000" stroke-width="0.8"/>
<line x1="406.5" y1="803.2" x2="406.5" y2="812.9" stroke="#000000" stroke-width="0.8"/>
<line x1="404.9" y1="803.2" x2="408.1" y2="803.2" stroke="#000000" stroke-width="0.8"/>
<line x1="404.9" y1="812.9" x2="408.1" y2="812.9" stroke="#000000" stroke-width="0.8"/>
<line x1="424.5" y1="798.5" x2="424.5" y2="809.17" stroke="#000000" stroke-width="0.8"/>
<line x1="422.9" y1="798.5" x2="426.1" y2="798.5" stroke="#000000" stroke-width="0.8"/>
<line x1="422.9" y1="809.17" x2="426.1" y2="809.17" stroke="#000000" stroke-width="0.8"/>
<line x1="442.5" y1="758.92" x2="442.5" y2="783.17" stroke="#000000" stroke-width="0.8"/>
<line x1="440.9" y1="758.92" x2="444.1" y2="758.92" stroke="#000000" stroke-width="0.8"/>
<line x1="440.9" y1="783.17" x2="444.1" y2="783.17" stroke="#000000" stroke-width="0.8"/>
<polyline points="330,840.79 343.5,837.15 375,827.21 388.5,822.6 406.5,808.05 424.5,803.83 442.5,771.04" fill="none" stroke="#000000" stroke-width="1" stroke-linejoin="miter"/>
<circle cx="330" cy="840.79" r="2.1" fill="#000000"/>
<circle cx="343.5" cy="837.15" r="2.1" fill="#000000"/>
<circle cx="375" cy="827.21" r="2.1" fill="#000000"/>
<circle cx="388.5" cy="822.6" r="2.1" fill="#000000"/>
<circle cx="406.5" cy="808.05" r="2.1" fill="#000000"/>
<circle cx="424.5" cy="803.83" r="2.1" fill="#000000"/>
<circle cx="442.5" cy="771.04" r="2.1" fill="#000000"/>
<line x1="296.4" y1="867.4" x2="303.6" y2="867.4" stroke="#000000" stroke-width="1"/>
<circle cx="300" cy="867.4" r="2.35" fill="#000000"/>
<text x="308" y="869.79" font-size="5.4">PBS + VV-αHER2-TCE i.t. (n=5)</text>
<line x1="296.4" y1="875.4" x2="303.6" y2="875.4" stroke="#bdbdbd" stroke-width="1"/>
<polygon points="300,873.61 301.79,875.4 300,877.19 298.21,875.4" fill="#bdbdbd"/>
<text x="308" y="877.79" font-size="5.4">PBS i.t. (n=5)</text>
<line x1="296.4" y1="885.4" x2="303.6" y2="885.4" stroke="#128f8f" stroke-width="1"/>
<polygon points="300,883.05 302.35,887.28 297.65,887.28" fill="#128f8f"/>
<text x="308" y="887.79" font-size="5.4">VSVΔ51-HER2T i.t. + VV-Ctrl-TCE i.t. (n=5)</text>
<line x1="296.4" y1="894" x2="303.6" y2="894" stroke="#8c2cff" stroke-width="1"/>
<polygon points="300,896.35 302.35,892.12 297.65,892.12" fill="#8c2cff"/>
<text x="308" y="896.39" font-size="5.4">VSVΔ51-Fluc i.t. + VV-αHER2-TCE i.t. (n=5)</text>
<line x1="296.4" y1="902.6" x2="303.6" y2="902.6" stroke="#ff2a78" stroke-width="1"/>
<rect x="297.76" y="900.36" width="4.48" height="4.48" fill="#ff2a78"/>
<text x="308" y="904.99" font-size="5.4">VSVΔ51-HER2T i.t. + VV-αHER2-TCE i.t. (n=5)</text>
<line x1="509.32" y1="48.15" x2="509.32" y2="122.4" stroke="#555555" stroke-width="0.85" stroke-dasharray="2,1.2"/>
<line x1="510.81" y1="48.15" x2="510.81" y2="122.4" stroke="#f7b233" stroke-width="0.85" stroke-dasharray="2,1.2"/>
<line x1="513.8" y1="48.15" x2="513.8" y2="122.4" stroke="#555555" stroke-width="0.85" stroke-dasharray="2,1.2"/>
<line x1="515.29" y1="48.15" x2="515.29" y2="122.4" stroke="#f7b233" stroke-width="0.85" stroke-dasharray="2,1.2"/>
<line x1="494.4" y1="48.15" x2="494.4" y2="123" stroke="#000000" stroke-width="1.2"/>
<line x1="490.2" y1="122.4" x2="494.4" y2="122.4" stroke="#000000" stroke-width="1"/>
<text x="489.4" y="124.24" font-size="5.1" font-weight="bold" text-anchor="end">0</text>
<line x1="492" y1="119.03" x2="494.4" y2="119.03" stroke="#000000" stroke-width="1"/>
<line x1="492" y1="115.65" x2="494.4" y2="115.65" stroke="#000000" stroke-width="1"/>
<line x1="492" y1="112.28" x2="494.4" y2="112.28" stroke="#000000" stroke-width="1"/>
<line x1="492" y1="108.9" x2="494.4" y2="108.9" stroke="#000000" stroke-width="1"/>
<line x1="492" y1="105.53" x2="494.4" y2="105.53" stroke="#000000" stroke-width="1"/>
<line x1="492" y1="102.15" x2="494.4" y2="102.15" stroke="#000000" stroke-width="1"/>
<line x1="492" y1="98.78" x2="494.4" y2="98.78" stroke="#000000" stroke-width="1"/>
<line x1="492" y1="95.4" x2="494.4" y2="95.4" stroke="#000000" stroke-width="1"/>
<line x1="492" y1="92.03" x2="494.4" y2="92.03" stroke="#000000" stroke-width="1"/>
<line x1="490.2" y1="88.65" x2="494.4" y2="88.65" stroke="#000000" stroke-width="1"/>
<text x="489.4" y="90.49" font-size="5.1" font-weight="bold" text-anchor="end">50</text>
<line x1="492" y1="85.28" x2="494.4" y2="85.28" stroke="#000000" stroke-width="1"/>
<line x1="492" y1="81.9" x2="494.4" y2="81.9" stroke="#000000" stroke-width="1"/>
<line x1="492" y1="78.53" x2="494.4" y2="78.53" stroke="#000000" stroke-width="1"/>
<line x1="492" y1="75.15" x2="494.4" y2="75.15" stroke="#000000" stroke-width="1"/>
<line x1="492" y1="71.78" x2="494.4" y2="71.78" stroke="#000000" stroke-width="1"/>
<line x1="492" y1="68.4" x2="494.4" y2="68.4" stroke="#000000" stroke-width="1"/>
<line x1="492" y1="65.03" x2="494.4" y2="65.03" stroke="#000000" stroke-width="1"/>
<line x1="492" y1="61.65" x2="494.4" y2="61.65" stroke="#000000" stroke-width="1"/>
<line x1="492" y1="58.28" x2="494.4" y2="58.28" stroke="#000000" stroke-width="1"/>
<line x1="490.2" y1="54.9" x2="494.4" y2="54.9" stroke="#000000" stroke-width="1"/>
<text x="489.4" y="56.74" font-size="5.1" font-weight="bold" text-anchor="end">100</text>
<line x1="492" y1="51.53" x2="494.4" y2="51.53" stroke="#000000" stroke-width="1"/>
<line x1="492" y1="48.15" x2="494.4" y2="48.15" stroke="#000000" stroke-width="1"/>
<line x1="493.8" y1="122.4" x2="658.52" y2="122.4" stroke="#000000" stroke-width="1.2"/>
<line x1="494.4" y1="122.4" x2="494.4" y2="125.4" stroke="#000000" stroke-width="1"/>
<text x="494.4" y="131.78" font-size="5.1" font-weight="bold" text-anchor="middle">0</text>
<line x1="501.86" y1="122.4" x2="501.86" y2="124.6" stroke="#000000" stroke-width="1"/>
<line x1="509.32" y1="122.4" x2="509.32" y2="124.6" stroke="#000000" stroke-width="1"/>
<line x1="516.78" y1="122.4" x2="516.78" y2="124.6" stroke="#000000" stroke-width="1"/>
<line x1="524.24" y1="122.4" x2="524.24" y2="124.6" stroke="#000000" stroke-width="1"/>
<line x1="531.7" y1="122.4" x2="531.7" y2="124.6" stroke="#000000" stroke-width="1"/>
<line x1="539.16" y1="122.4" x2="539.16" y2="124.6" stroke="#000000" stroke-width="1"/>
<line x1="546.62" y1="122.4" x2="546.62" y2="124.6" stroke="#000000" stroke-width="1"/>
<line x1="554.08" y1="122.4" x2="554.08" y2="124.6" stroke="#000000" stroke-width="1"/>
<line x1="561.54" y1="122.4" x2="561.54" y2="124.6" stroke="#000000" stroke-width="1"/>
<line x1="569" y1="122.4" x2="569" y2="125.4" stroke="#000000" stroke-width="1"/>
<text x="569" y="131.78" font-size="5.1" font-weight="bold" text-anchor="middle">50</text>
<line x1="576.46" y1="122.4" x2="576.46" y2="124.6" stroke="#000000" stroke-width="1"/>
<line x1="583.92" y1="122.4" x2="583.92" y2="124.6" stroke="#000000" stroke-width="1"/>
<line x1="591.38" y1="122.4" x2="591.38" y2="124.6" stroke="#000000" stroke-width="1"/>
<line x1="598.84" y1="122.4" x2="598.84" y2="124.6" stroke="#000000" stroke-width="1"/>
<line x1="606.3" y1="122.4" x2="606.3" y2="124.6" stroke="#000000" stroke-width="1"/>
<line x1="613.76" y1="122.4" x2="613.76" y2="124.6" stroke="#000000" stroke-width="1"/>
<line x1="621.22" y1="122.4" x2="621.22" y2="124.6" stroke="#000000" stroke-width="1"/>
<line x1="628.68" y1="122.4" x2="628.68" y2="124.6" stroke="#000000" stroke-width="1"/>
<line x1="636.14" y1="122.4" x2="636.14" y2="124.6" stroke="#000000" stroke-width="1"/>
<line x1="643.6" y1="122.4" x2="643.6" y2="125.4" stroke="#000000" stroke-width="1"/>
<text x="643.6" y="131.78" font-size="5.1" font-weight="bold" text-anchor="middle">100</text>
<line x1="651.06" y1="122.4" x2="651.06" y2="124.6" stroke="#000000" stroke-width="1"/>
<line x1="658.52" y1="122.4" x2="658.52" y2="124.6" stroke="#000000" stroke-width="1"/>
<text x="576.3" y="39" font-size="7" font-weight="bold" text-anchor="middle">MC38</text>
<text x="576.2" y="141" font-size="5.93" font-weight="bold" text-anchor="middle">Days post-implantation</text>
<text x="477.04" y="85.1" font-size="5.94" font-weight="bold" text-anchor="middle" transform="rotate(-90 477.04 85.1)">Survival (%)</text>
<polyline points="494.4,54.9 530.06,54.9 530.06,108.9 535.58,108.9 535.58,122.4" fill="none" stroke="#cccccc" stroke-width="1.1" stroke-linejoin="miter"/>
<polyline points="494.4,54.9 549.31,54.9 549.31,68.4 558.41,68.4 558.41,81.9 564.23,81.9 564.23,95.4 643.6,95.4" fill="none" stroke="#ff3f86" stroke-width="1.1" stroke-linejoin="miter"/>
<line x1="643.6" y1="93.9" x2="643.6" y2="95.4" stroke="#ff3f86" stroke-width="0.8"/>
<polyline points="494.4,54.9 530.06,54.9 530.06,68.4 535.58,68.4 535.58,95.4 541.85,95.4 541.85,108.9 546.47,108.9 546.47,122.4" fill="none" stroke="#8f3cff" stroke-width="1.1" stroke-linejoin="miter"/>
<polyline points="494.4,54.9 530.06,54.9 530.06,81.9 541.85,81.9 541.85,108.9 546.47,108.9 546.47,122.4" fill="none" stroke="#36adb6" stroke-width="1.1" stroke-linejoin="miter"/>
<polyline points="494.4,54.9 530.06,54.9 530.06,81.9 535.58,81.9 535.58,95.4 541.85,95.4 541.85,108.9 546.47,108.9 546.47,122.4" fill="none" stroke="#262626" stroke-width="1.1" stroke-linejoin="miter"/>
<line x1="494.4" y1="54.9" x2="530.06" y2="54.9" stroke="#4a3045" stroke-width="1.15"/>
<line x1="494" y1="151.6" x2="503" y2="151.6" stroke="#262626" stroke-width="0.95"/>
<line x1="498.5" y1="150.3" x2="498.5" y2="151.6" stroke="#262626" stroke-width="0.7"/>
<text x="507.4" y="154.06" font-size="6">PBS + VV-αHER2-TCE i.t. (n=5)</text>
<line x1="494" y1="161" x2="503" y2="161" stroke="#cccccc" stroke-width="0.95"/>
<line x1="498.5" y1="159.7" x2="498.5" y2="161" stroke="#cccccc" stroke-width="0.7"/>
<text x="507.4" y="163.46" font-size="6">PBS i.t. (n=5)</text>
<line x1="494" y1="169.8" x2="503" y2="169.8" stroke="#36adb6" stroke-width="0.95"/>
<line x1="498.5" y1="168.5" x2="498.5" y2="169.8" stroke="#36adb6" stroke-width="0.7"/>
<text x="507.4" y="172.26" font-size="6">VSVΔ51-HER2T i.t. + VV-Ctrl-TCE i.t. (n=5)</text>
<line x1="494" y1="179.6" x2="503" y2="179.6" stroke="#8f3cff" stroke-width="0.95"/>
<line x1="498.5" y1="178.3" x2="498.5" y2="179.6" stroke="#8f3cff" stroke-width="0.7"/>
<text x="507.4" y="182.06" font-size="6">VSVΔ51-Fluc i.t. + VV-αHER2-TCE i.t. (n=5)</text>
<line x1="494" y1="188.6" x2="503" y2="188.6" stroke="#ff3f86" stroke-width="0.95"/>
<line x1="498.5" y1="187.3" x2="498.5" y2="188.6" stroke="#ff3f86" stroke-width="0.7"/>
<text x="507.4" y="191.06" font-size="6">VSVΔ51-HER2T i.t. + VV-αHER2-TCE i.t. (n=5)</text>
<polyline points="622.2,150.4 625.8,150.4 625.8,164.3 622.2,164.3" fill="none" stroke="#555555" stroke-width="0.85" stroke-linejoin="miter"/>
<text x="629.93" y="150.9" font-size="5.75" font-weight="bold" transform="rotate(90 629.93 150.9)">p = 0.1172</text>
<polyline points="640,150.4 643.4,150.4 643.4,172.6 640,172.6" fill="none" stroke="#555555" stroke-width="0.85" stroke-linejoin="miter"/>
<text x="646.63" y="150.9" font-size="5.75" font-weight="bold" transform="rotate(90 646.63 150.9)">p = 0.7906</text>
<polyline points="655.2,150.4 659,150.4 659,181.2 655.2,181.2" fill="none" stroke="#555555" stroke-width="0.85" stroke-linejoin="miter"/>
<text x="662.93" y="150.9" font-size="5.75" font-weight="bold" transform="rotate(90 662.93 150.9)">p = 0.8566</text>
<polyline points="669.3,150.4 672.8,150.4 672.8,190 669.3,190" fill="none" stroke="#555555" stroke-width="0.85" stroke-linejoin="miter"/>
<text x="676.83" y="150.9" font-size="5.75" font-weight="bold" transform="rotate(90 676.83 150.9)">p = 0.0017</text>
<line x1="507.86" y1="396.19" x2="507.86" y2="467.8" stroke="#555555" stroke-width="0.85" stroke-dasharray="2,1.2"/>
<line x1="509.32" y1="396.19" x2="509.32" y2="467.8" stroke="#f7b233" stroke-width="0.85" stroke-dasharray="2,1.2"/>
<line x1="512.23" y1="396.19" x2="512.23" y2="467.8" stroke="#555555" stroke-width="0.85" stroke-dasharray="2,1.2"/>
<line x1="513.68" y1="396.19" x2="513.68" y2="467.8" stroke="#f7b233" stroke-width="0.85" stroke-dasharray="2,1.2"/>
<line x1="493.3" y1="396.19" x2="493.3" y2="468.4" stroke="#000000" stroke-width="1.2"/>
<line x1="489.1" y1="467.8" x2="493.3" y2="467.8" stroke="#000000" stroke-width="1"/>
<text x="488.3" y="469.78" font-size="5.5" font-weight="bold" text-anchor="end">0</text>
<line x1="490.9" y1="464.55" x2="493.3" y2="464.55" stroke="#000000" stroke-width="1"/>
<line x1="490.9" y1="461.29" x2="493.3" y2="461.29" stroke="#000000" stroke-width="1"/>
<line x1="490.9" y1="458.04" x2="493.3" y2="458.04" stroke="#000000" stroke-width="1"/>
<line x1="490.9" y1="454.78" x2="493.3" y2="454.78" stroke="#000000" stroke-width="1"/>
<line x1="490.9" y1="451.53" x2="493.3" y2="451.53" stroke="#000000" stroke-width="1"/>
<line x1="490.9" y1="448.27" x2="493.3" y2="448.27" stroke="#000000" stroke-width="1"/>
<line x1="490.9" y1="445.01" x2="493.3" y2="445.01" stroke="#000000" stroke-width="1"/>
<line x1="490.9" y1="441.76" x2="493.3" y2="441.76" stroke="#000000" stroke-width="1"/>
<line x1="490.9" y1="438.5" x2="493.3" y2="438.5" stroke="#000000" stroke-width="1"/>
<line x1="489.1" y1="435.25" x2="493.3" y2="435.25" stroke="#000000" stroke-width="1"/>
<text x="488.3" y="437.23" font-size="5.5" font-weight="bold" text-anchor="end">50</text>
<line x1="490.9" y1="432" x2="493.3" y2="432" stroke="#000000" stroke-width="1"/>
<line x1="490.9" y1="428.74" x2="493.3" y2="428.74" stroke="#000000" stroke-width="1"/>
<line x1="490.9" y1="425.49" x2="493.3" y2="425.49" stroke="#000000" stroke-width="1"/>
<line x1="490.9" y1="422.23" x2="493.3" y2="422.23" stroke="#000000" stroke-width="1"/>
<line x1="490.9" y1="418.98" x2="493.3" y2="418.98" stroke="#000000" stroke-width="1"/>
<line x1="490.9" y1="415.72" x2="493.3" y2="415.72" stroke="#000000" stroke-width="1"/>
<line x1="490.9" y1="412.47" x2="493.3" y2="412.47" stroke="#000000" stroke-width="1"/>
<line x1="490.9" y1="409.21" x2="493.3" y2="409.21" stroke="#000000" stroke-width="1"/>
<line x1="490.9" y1="405.96" x2="493.3" y2="405.96" stroke="#000000" stroke-width="1"/>
<line x1="489.1" y1="402.7" x2="493.3" y2="402.7" stroke="#000000" stroke-width="1"/>
<text x="488.3" y="404.68" font-size="5.5" font-weight="bold" text-anchor="end">100</text>
<line x1="490.9" y1="399.44" x2="493.3" y2="399.44" stroke="#000000" stroke-width="1"/>
<line x1="490.9" y1="396.19" x2="493.3" y2="396.19" stroke="#000000" stroke-width="1"/>
<line x1="492.7" y1="467.8" x2="653.46" y2="467.8" stroke="#000000" stroke-width="1.2"/>
<line x1="493.3" y1="467.8" x2="493.3" y2="470.8" stroke="#000000" stroke-width="1"/>
<text x="493.3" y="477.68" font-size="5.5" font-weight="bold" text-anchor="middle">0</text>
<line x1="500.58" y1="467.8" x2="500.58" y2="470" stroke="#000000" stroke-width="1"/>
<line x1="507.86" y1="467.8" x2="507.86" y2="470" stroke="#000000" stroke-width="1"/>
<line x1="515.14" y1="467.8" x2="515.14" y2="470" stroke="#000000" stroke-width="1"/>
<line x1="522.42" y1="467.8" x2="522.42" y2="470" stroke="#000000" stroke-width="1"/>
<line x1="529.7" y1="467.8" x2="529.7" y2="470" stroke="#000000" stroke-width="1"/>
<line x1="536.98" y1="467.8" x2="536.98" y2="470" stroke="#000000" stroke-width="1"/>
<line x1="544.26" y1="467.8" x2="544.26" y2="470" stroke="#000000" stroke-width="1"/>
<line x1="551.54" y1="467.8" x2="551.54" y2="470" stroke="#000000" stroke-width="1"/>
<line x1="558.82" y1="467.8" x2="558.82" y2="470" stroke="#000000" stroke-width="1"/>
<line x1="566.1" y1="467.8" x2="566.1" y2="470.8" stroke="#000000" stroke-width="1"/>
<text x="566.1" y="477.68" font-size="5.5" font-weight="bold" text-anchor="middle">50</text>
<line x1="573.38" y1="467.8" x2="573.38" y2="470" stroke="#000000" stroke-width="1"/>
<line x1="580.66" y1="467.8" x2="580.66" y2="470" stroke="#000000" stroke-width="1"/>
<line x1="587.94" y1="467.8" x2="587.94" y2="470" stroke="#000000" stroke-width="1"/>
<line x1="595.22" y1="467.8" x2="595.22" y2="470" stroke="#000000" stroke-width="1"/>
<line x1="602.5" y1="467.8" x2="602.5" y2="470" stroke="#000000" stroke-width="1"/>
<line x1="609.78" y1="467.8" x2="609.78" y2="470" stroke="#000000" stroke-width="1"/>
<line x1="617.06" y1="467.8" x2="617.06" y2="470" stroke="#000000" stroke-width="1"/>
<line x1="624.34" y1="467.8" x2="624.34" y2="470" stroke="#000000" stroke-width="1"/>
<line x1="631.62" y1="467.8" x2="631.62" y2="470" stroke="#000000" stroke-width="1"/>
<line x1="638.9" y1="467.8" x2="638.9" y2="470.8" stroke="#000000" stroke-width="1"/>
<text x="638.9" y="477.68" font-size="5.5" font-weight="bold" text-anchor="middle">100</text>
<line x1="646.18" y1="467.8" x2="646.18" y2="470" stroke="#000000" stroke-width="1"/>
<line x1="653.46" y1="467.8" x2="653.46" y2="470" stroke="#000000" stroke-width="1"/>
<text x="572.9" y="386.6" font-size="7" font-weight="bold" text-anchor="middle">CT26</text>
<text x="573.2" y="486" font-size="5.75" font-weight="bold" text-anchor="middle">Days post-implantation</text>
<text x="476.75" y="431.8" font-size="5.7" font-weight="bold" text-anchor="middle" transform="rotate(-90 476.75 431.8)">Survival (%)</text>
<polyline points="493.3,402.7 534.21,402.7 534.21,454.78 539.75,454.78 539.75,467.8" fill="none" stroke="#cccccc" stroke-width="1.1" stroke-linejoin="miter"/>
<polyline points="493.3,402.7 534.21,402.7 534.21,428.74 539.75,428.74 539.75,454.78 544.11,454.78" fill="none" stroke="#8f3cff" stroke-width="1.1" stroke-linejoin="miter"/>
<polyline points="493.3,402.7 534.21,402.7 534.21,428.74 539.75,428.74 539.75,441.76 544.11,441.76 544.11,454.78 561.59,454.78 561.59,467.8" fill="none" stroke="#36adb6" stroke-width="1.1" stroke-linejoin="miter"/>
<polyline points="493.3,402.7 528.54,402.7 528.54,428.74 534.21,428.74 534.21,441.76 539.75,441.76 539.75,467.8" fill="none" stroke="#262626" stroke-width="1.1" stroke-linejoin="miter"/>
<polyline points="493.3,402.7 539.75,402.7 539.75,415.72 544.11,415.72 544.11,428.74 555.76,428.74 555.76,441.76 638.9,441.76" fill="none" stroke="#ff3f86" stroke-width="1.1" stroke-linejoin="miter"/>
<line x1="638.9" y1="440.26" x2="638.9" y2="441.76" stroke="#ff3f86" stroke-width="0.8"/>
<line x1="493.3" y1="402.7" x2="528.54" y2="402.7" stroke="#45303f" stroke-width="1.15"/>
<line x1="497.4" y1="495" x2="505.4" y2="495" stroke="#262626" stroke-width="0.95"/>
<line x1="501.4" y1="493.7" x2="501.4" y2="495" stroke="#262626" stroke-width="0.7"/>
<text x="509.3" y="497.39" font-size="5.8">PBS + VV-αHER2-TCE i.t. (n=5)</text>
<line x1="497.4" y1="504" x2="505.4" y2="504" stroke="#cccccc" stroke-width="0.95"/>
<line x1="501.4" y1="502.7" x2="501.4" y2="504" stroke="#cccccc" stroke-width="0.7"/>
<text x="509.3" y="506.39" font-size="5.8">PBS i.t. (n=5)</text>
<line x1="497.4" y1="513.9" x2="505.4" y2="513.9" stroke="#36adb6" stroke-width="0.95"/>
<line x1="501.4" y1="512.6" x2="501.4" y2="513.9" stroke="#36adb6" stroke-width="0.7"/>
<text x="509.3" y="516.29" font-size="5.8">VSVΔ51-HER2T i.t. + VV-Ctrl-TCE i.t. (n=5)</text>
<line x1="497.4" y1="522.9" x2="505.4" y2="522.9" stroke="#8f3cff" stroke-width="0.95"/>
<line x1="501.4" y1="521.6" x2="501.4" y2="522.9" stroke="#8f3cff" stroke-width="0.7"/>
<text x="509.3" y="525.29" font-size="5.8">VSVΔ51-Fluc i.t. + VV-αHER2-TCE i.t. (n=5)</text>
<line x1="497.4" y1="531.8" x2="505.4" y2="531.8" stroke="#ff3f86" stroke-width="0.95"/>
<line x1="501.4" y1="530.5" x2="501.4" y2="531.8" stroke="#ff3f86" stroke-width="0.7"/>
<text x="509.3" y="534.19" font-size="5.8">VSVΔ51-HER2T i.t. + VV-αHER2-TCE i.t. (n=5)</text>
<polyline points="628.3,494.3 631.6,494.3 631.6,507.6 628.3,507.6" fill="none" stroke="#555555" stroke-width="0.85" stroke-linejoin="miter"/>
<text x="635.55" y="494.8" font-size="5.7" font-weight="bold" transform="rotate(90 635.55 494.8)">p = 0.8978</text>
<polyline points="645.3,494.3 648.6,494.3 648.6,515 645.3,515" fill="none" stroke="#555555" stroke-width="0.85" stroke-linejoin="miter"/>
<text x="652.35" y="494.8" font-size="5.7" font-weight="bold" transform="rotate(90 652.35 494.8)">p = 0.1428</text>
<polyline points="660.4,494.3 664.5,494.3 664.5,524 660.4,524" fill="none" stroke="#555555" stroke-width="0.85" stroke-linejoin="miter"/>
<text x="667.85" y="494.8" font-size="5.7" font-weight="bold" transform="rotate(90 667.85 494.8)">p = 0.2418</text>
<polyline points="673.8,494.3 677.5,494.3 677.5,532.4 673.8,532.4" fill="none" stroke="#555555" stroke-width="0.85" stroke-linejoin="miter"/>
<text x="680.25" y="494.8" font-size="5.7" font-weight="bold" transform="rotate(90 680.25 494.8)">p = 0.0079</text>
<line x1="510.92" y1="757.61" x2="510.92" y2="832.3" stroke="#555555" stroke-width="0.85" stroke-dasharray="2,1.2"/>
<line x1="512.57" y1="757.61" x2="512.57" y2="832.3" stroke="#f7b233" stroke-width="0.85" stroke-dasharray="2,1.2"/>
<line x1="515.88" y1="757.61" x2="515.88" y2="832.3" stroke="#555555" stroke-width="0.85" stroke-dasharray="2,1.2"/>
<line x1="517.53" y1="757.61" x2="517.53" y2="832.3" stroke="#f7b233" stroke-width="0.85" stroke-dasharray="2,1.2"/>
<line x1="494.4" y1="757.61" x2="494.4" y2="832.9" stroke="#000000" stroke-width="1.2"/>
<line x1="490.2" y1="832.3" x2="494.4" y2="832.3" stroke="#000000" stroke-width="1"/>
<text x="489.4" y="834.32" font-size="5.6" font-weight="bold" text-anchor="end">0</text>
<line x1="492" y1="828.9" x2="494.4" y2="828.9" stroke="#000000" stroke-width="1"/>
<line x1="492" y1="825.51" x2="494.4" y2="825.51" stroke="#000000" stroke-width="1"/>
<line x1="492" y1="822.12" x2="494.4" y2="822.12" stroke="#000000" stroke-width="1"/>
<line x1="492" y1="818.72" x2="494.4" y2="818.72" stroke="#000000" stroke-width="1"/>
<line x1="492" y1="815.32" x2="494.4" y2="815.32" stroke="#000000" stroke-width="1"/>
<line x1="492" y1="811.93" x2="494.4" y2="811.93" stroke="#000000" stroke-width="1"/>
<line x1="492" y1="808.53" x2="494.4" y2="808.53" stroke="#000000" stroke-width="1"/>
<line x1="492" y1="805.14" x2="494.4" y2="805.14" stroke="#000000" stroke-width="1"/>
<line x1="492" y1="801.75" x2="494.4" y2="801.75" stroke="#000000" stroke-width="1"/>
<line x1="490.2" y1="798.35" x2="494.4" y2="798.35" stroke="#000000" stroke-width="1"/>
<text x="489.4" y="800.37" font-size="5.6" font-weight="bold" text-anchor="end">50</text>
<line x1="492" y1="794.95" x2="494.4" y2="794.95" stroke="#000000" stroke-width="1"/>
<line x1="492" y1="791.56" x2="494.4" y2="791.56" stroke="#000000" stroke-width="1"/>
<line x1="492" y1="788.16" x2="494.4" y2="788.16" stroke="#000000" stroke-width="1"/>
<line x1="492" y1="784.77" x2="494.4" y2="784.77" stroke="#000000" stroke-width="1"/>
<line x1="492" y1="781.38" x2="494.4" y2="781.38" stroke="#000000" stroke-width="1"/>
<line x1="492" y1="777.98" x2="494.4" y2="777.98" stroke="#000000" stroke-width="1"/>
<line x1="492" y1="774.58" x2="494.4" y2="774.58" stroke="#000000" stroke-width="1"/>
<line x1="492" y1="771.19" x2="494.4" y2="771.19" stroke="#000000" stroke-width="1"/>
<line x1="492" y1="767.79" x2="494.4" y2="767.79" stroke="#000000" stroke-width="1"/>
<line x1="490.2" y1="764.4" x2="494.4" y2="764.4" stroke="#000000" stroke-width="1"/>
<text x="489.4" y="766.42" font-size="5.6" font-weight="bold" text-anchor="end">100</text>
<line x1="492" y1="761" x2="494.4" y2="761" stroke="#000000" stroke-width="1"/>
<line x1="492" y1="757.61" x2="494.4" y2="757.61" stroke="#000000" stroke-width="1"/>
<line x1="493.8" y1="832.3" x2="659.6" y2="832.3" stroke="#000000" stroke-width="1.2"/>
<line x1="494.4" y1="832.3" x2="494.4" y2="835.3" stroke="#000000" stroke-width="1"/>
<text x="494.4" y="842.3" font-size="5.6" font-weight="bold" text-anchor="middle">0</text>
<line x1="527.44" y1="832.3" x2="527.44" y2="835.3" stroke="#000000" stroke-width="1"/>
<text x="527.44" y="842.3" font-size="5.6" font-weight="bold" text-anchor="middle">20</text>
<line x1="560.48" y1="832.3" x2="560.48" y2="835.3" stroke="#000000" stroke-width="1"/>
<text x="560.48" y="842.3" font-size="5.6" font-weight="bold" text-anchor="middle">40</text>
<line x1="593.52" y1="832.3" x2="593.52" y2="835.3" stroke="#000000" stroke-width="1"/>
<text x="593.52" y="842.3" font-size="5.6" font-weight="bold" text-anchor="middle">60</text>
<line x1="626.56" y1="832.3" x2="626.56" y2="835.3" stroke="#000000" stroke-width="1"/>
<text x="626.56" y="842.3" font-size="5.6" font-weight="bold" text-anchor="middle">80</text>
<line x1="659.6" y1="832.3" x2="659.6" y2="835.3" stroke="#000000" stroke-width="1"/>
<text x="659.6" y="842.3" font-size="5.6" font-weight="bold" text-anchor="middle">100</text>
<text x="577.4" y="748" font-size="7" font-weight="bold" text-anchor="middle">4T1.2</text>
<text x="577" y="850.2" font-size="6" font-weight="bold" text-anchor="middle">Days post-implantation</text>
<text x="477.74" y="794.9" font-size="5.94" font-weight="bold" text-anchor="middle" transform="rotate(-90 477.74 794.9)">Survival (%)</text>
<polyline points="494.4,764.4 547.1,764.4 547.1,832.3" fill="none" stroke="#cccccc" stroke-width="1.1" stroke-linejoin="miter"/>
<polyline points="494.4,764.4 547.1,764.4 547.1,777.98 588.56,777.98 588.56,805.14 593.19,805.14 593.19,818.72 603.1,818.72 603.1,832.3" fill="none" stroke="#ff3f86" stroke-width="1.1" stroke-linejoin="miter"/>
<polyline points="494.4,764.4 547.1,764.4 547.1,791.56 558.83,791.56 558.83,805.14 565.27,805.14 565.27,832.3" fill="none" stroke="#36adb6" stroke-width="1.1" stroke-linejoin="miter"/>
<polyline points="494.4,764.4 547.1,764.4 547.1,818.72 565.27,818.72 565.27,832.3" fill="none" stroke="#262626" stroke-width="1.1" stroke-linejoin="miter"/>
<line x1="490.5" y1="859.4" x2="499.5" y2="859.4" stroke="#262626" stroke-width="0.95"/>
<line x1="495" y1="858.1" x2="495" y2="859.4" stroke="#262626" stroke-width="0.7"/>
<text x="502.4" y="861.86" font-size="6">PBS + VV-αHER2-TCE i.t. (n=5)</text>
<line x1="490.5" y1="868.4" x2="499.5" y2="868.4" stroke="#cccccc" stroke-width="0.95"/>
<line x1="495" y1="867.1" x2="495" y2="868.4" stroke="#cccccc" stroke-width="0.7"/>
<text x="502.4" y="870.86" font-size="6">PBS i.t. (n=5)</text>
<line x1="490.5" y1="879.5" x2="499.5" y2="879.5" stroke="#36adb6" stroke-width="0.95"/>
<line x1="495" y1="878.2" x2="495" y2="879.5" stroke="#36adb6" stroke-width="0.7"/>
<text x="502.4" y="881.96" font-size="6">VSVΔ51-HER2T i.t. + VV-Ctrl-TCE i.t. (n=5)</text>
<line x1="490.5" y1="889.4" x2="499.5" y2="889.4" stroke="#8f3cff" stroke-width="0.95"/>
<line x1="495" y1="888.1" x2="495" y2="889.4" stroke="#8f3cff" stroke-width="0.7"/>
<text x="502.4" y="891.86" font-size="6">VSVΔ51-Fluc i.t. + VV-αHER2-TCE i.t. (n=5)</text>
<line x1="490.5" y1="898.3" x2="499.5" y2="898.3" stroke="#ff3f86" stroke-width="0.95"/>
<line x1="495" y1="897" x2="495" y2="898.3" stroke="#ff3f86" stroke-width="0.7"/>
<text x="502.4" y="900.76" font-size="6">VSVΔ51-HER2T i.t. + VV-αHER2-TCE i.t. (n=5)</text>
<polyline points="622,857.9 624.8,857.9 624.8,869.7 622,869.7" fill="none" stroke="#555555" stroke-width="0.85" stroke-linejoin="miter"/>
<text x="627.99" y="858.4" font-size="5.85" font-weight="bold" transform="rotate(90 627.99 858.4)">p = 0.3173</text>
<polyline points="635.7,857.9 638.8,857.9 638.8,882.2 635.7,882.2" fill="none" stroke="#555555" stroke-width="0.85" stroke-linejoin="miter"/>
<text x="641.69" y="858.4" font-size="5.85" font-weight="bold" transform="rotate(90 641.69 858.4)">p = 0.4171</text>
<polyline points="650.3,857.9 653.4,857.9 653.4,893.1 650.3,893.1" fill="none" stroke="#555555" stroke-width="0.85" stroke-linejoin="miter"/>
<text x="657.39" y="858.4" font-size="5.85" font-weight="bold" transform="rotate(90 657.39 858.4)">p = 0.4171</text>
<polyline points="665.5,857.9 668.6,857.9 668.6,900.8 665.5,900.8" fill="none" stroke="#555555" stroke-width="0.85" stroke-linejoin="miter"/>
<text x="672.29" y="858.4" font-size="5.85" font-weight="bold" transform="rotate(90 672.29 858.4)">p = 0.0128</text>
<line x1="29.3" y1="231.7" x2="29.3" y2="294.55" stroke="#000000" stroke-width="1.1"/>
<line x1="27" y1="294" x2="29.3" y2="294" stroke="#000000" stroke-width="0.9"/>
<text x="26.1" y="295.6" font-size="4.45" font-weight="bold" text-anchor="end">0</text>
<line x1="27" y1="278.5" x2="29.3" y2="278.5" stroke="#000000" stroke-width="0.9"/>
<text x="26.1" y="280.1" font-size="4.45" font-weight="bold" text-anchor="end">500</text>
<line x1="27" y1="263" x2="29.3" y2="263" stroke="#000000" stroke-width="0.9"/>
<text x="26.1" y="264.6" font-size="4.45" font-weight="bold" text-anchor="end">1000</text>
<line x1="27" y1="247.5" x2="29.3" y2="247.5" stroke="#000000" stroke-width="0.9"/>
<text x="26.1" y="249.1" font-size="4.45" font-weight="bold" text-anchor="end">1500</text>
<line x1="27" y1="232" x2="29.3" y2="232" stroke="#000000" stroke-width="0.9"/>
<text x="26.1" y="233.6" font-size="4.45" font-weight="bold" text-anchor="end">2000</text>
<line x1="28.75" y1="294" x2="122.7" y2="294" stroke="#000000" stroke-width="1.1"/>
<line x1="29.3" y1="294" x2="29.3" y2="296.2" stroke="#000000" stroke-width="0.9"/>
<text x="29.3" y="301.6" font-size="4.85" text-anchor="middle">0</text>
<line x1="52.65" y1="294" x2="52.65" y2="296.2" stroke="#000000" stroke-width="0.9"/>
<text x="52.65" y="301.6" font-size="4.85" text-anchor="middle">10</text>
<line x1="76" y1="294" x2="76" y2="296.2" stroke="#000000" stroke-width="0.9"/>
<text x="76" y="301.6" font-size="4.85" text-anchor="middle">20</text>
<line x1="99.35" y1="294" x2="99.35" y2="296.2" stroke="#000000" stroke-width="0.9"/>
<text x="99.35" y="301.6" font-size="4.85" text-anchor="middle">30</text>
<line x1="122.7" y1="294" x2="122.7" y2="296.2" stroke="#000000" stroke-width="0.9"/>
<text x="122.7" y="301.6" font-size="4.85" text-anchor="middle">40</text>
<text x="76.5" y="224" font-size="5.9" font-weight="bold" text-anchor="middle">Rechallenge MC38 - Parental (L)</text>
<text x="76.5" y="309" font-size="4.97" font-weight="bold" text-anchor="middle">Days post-implantation</text>
<text x="8.37" y="263" font-size="4.92" font-weight="bold" text-anchor="middle" transform="rotate(-90 8.37 263)">Tumour volume (mm<tspan font-size="3.2" dy="-1.72">3</tspan><tspan dy="1.72">)</tspan></text>
<polyline points="42.7,290.2 45.5,291.3 48,291 50.8,290.5 53.8,289.5 57,288 62.6,287 69.1,280.3 78.8,256.8 90.3,253.3 97.2,236.7" fill="none" stroke="#000000" stroke-width="0.7" stroke-linejoin="miter"/>
<polyline points="43.5,291 46.5,291.8 50,291 52.5,289.6 55.5,289.8 60,288.6 64.4,288 69.5,285 76.2,267 90.3,263.7 97.3,241.3" fill="none" stroke="#000000" stroke-width="0.7" stroke-linejoin="miter"/>
<polyline points="44,290.8 47,291.5 50.5,290.2 54,290.8 57.5,290.3 62.6,290.2 69.5,288.3 74.2,284.9 81.2,280.2 90.3,270.5 97.3,253" fill="none" stroke="#000000" stroke-width="0.7" stroke-linejoin="miter"/>
<polyline points="42.7,290.3 46,291 49.5,290 53,289.8 56,290 60,290.5 64.4,290.2 69.5,290.2 73.9,288 78.8,283.8 90.3,277 97.3,260" fill="none" stroke="#000000" stroke-width="0.7" stroke-linejoin="miter"/>
<polyline points="43,290.6 46.5,290.7 50,290.4 53,290 57,289.5 60.5,288.4 66,286 69.1,281.5 74.2,282.4 76.2,280.2" fill="none" stroke="#000000" stroke-width="0.7" stroke-linejoin="miter"/>
<circle cx="42.7" cy="290.2" r="1.15" fill="#000000"/>
<circle cx="45.5" cy="291.3" r="1.15" fill="#000000"/>
<circle cx="48" cy="291" r="1.15" fill="#000000"/>
<circle cx="50.8" cy="290.5" r="1.15" fill="#000000"/>
<circle cx="53.8" cy="289.5" r="1.15" fill="#000000"/>
<circle cx="57" cy="288" r="1.15" fill="#000000"/>
<circle cx="62.6" cy="287" r="1.15" fill="#000000"/>
<circle cx="69.1" cy="280.3" r="1.15" fill="#000000"/>
<circle cx="78.8" cy="256.8" r="1.15" fill="#000000"/>
<circle cx="90.3" cy="253.3" r="1.15" fill="#000000"/>
<circle cx="97.2" cy="236.7" r="1.15" fill="#000000"/>
<circle cx="43.5" cy="291" r="1.15" fill="#000000"/>
<circle cx="46.5" cy="291.8" r="1.15" fill="#000000"/>
<circle cx="50" cy="291" r="1.15" fill="#000000"/>
<circle cx="52.5" cy="289.6" r="1.15" fill="#000000"/>
<circle cx="55.5" cy="289.8" r="1.15" fill="#000000"/>
<circle cx="60" cy="288.6" r="1.15" fill="#000000"/>
<circle cx="64.4" cy="288" r="1.15" fill="#000000"/>
<circle cx="69.5" cy="285" r="1.15" fill="#000000"/>
<circle cx="76.2" cy="267" r="1.15" fill="#000000"/>
<circle cx="90.3" cy="263.7" r="1.15" fill="#000000"/>
<circle cx="97.3" cy="241.3" r="1.15" fill="#000000"/>
<circle cx="44" cy="290.8" r="1.15" fill="#000000"/>
<circle cx="47" cy="291.5" r="1.15" fill="#000000"/>
<circle cx="50.5" cy="290.2" r="1.15" fill="#000000"/>
<circle cx="54" cy="290.8" r="1.15" fill="#000000"/>
<circle cx="57.5" cy="290.3" r="1.15" fill="#000000"/>
<circle cx="62.6" cy="290.2" r="1.15" fill="#000000"/>
<circle cx="69.5" cy="288.3" r="1.15" fill="#000000"/>
<circle cx="74.2" cy="284.9" r="1.15" fill="#000000"/>
<circle cx="81.2" cy="280.2" r="1.15" fill="#000000"/>
<circle cx="90.3" cy="270.5" r="1.15" fill="#000000"/>
<circle cx="97.3" cy="253" r="1.15" fill="#000000"/>
<circle cx="42.7" cy="290.3" r="1.15" fill="#000000"/>
<circle cx="46" cy="291" r="1.15" fill="#000000"/>
<circle cx="49.5" cy="290" r="1.15" fill="#000000"/>
<circle cx="53" cy="289.8" r="1.15" fill="#000000"/>
<circle cx="56" cy="290" r="1.15" fill="#000000"/>
<circle cx="60" cy="290.5" r="1.15" fill="#000000"/>
<circle cx="64.4" cy="290.2" r="1.15" fill="#000000"/>
<circle cx="69.5" cy="290.2" r="1.15" fill="#000000"/>
<circle cx="73.9" cy="288" r="1.15" fill="#000000"/>
<circle cx="78.8" cy="283.8" r="1.15" fill="#000000"/>
<circle cx="90.3" cy="277" r="1.15" fill="#000000"/>
<circle cx="97.3" cy="260" r="1.15" fill="#000000"/>
<circle cx="43" cy="290.6" r="1.15" fill="#000000"/>
<circle cx="46.5" cy="290.7" r="1.15" fill="#000000"/>
<circle cx="50" cy="290.4" r="1.15" fill="#000000"/>
<circle cx="53" cy="290" r="1.15" fill="#000000"/>
<circle cx="57" cy="289.5" r="1.15" fill="#000000"/>
<circle cx="60.5" cy="288.4" r="1.15" fill="#000000"/>
<circle cx="66" cy="286" r="1.15" fill="#000000"/>
<circle cx="69.1" cy="281.5" r="1.15" fill="#000000"/>
<circle cx="74.2" cy="282.4" r="1.15" fill="#000000"/>
<circle cx="76.2" cy="280.2" r="1.15" fill="#000000"/>
<polyline points="45.7,293.8 50.9,293.8 57,291.3 62.5,290 69.5,283.1 73.9,279.5 78.6,248.6 90.3,237.4" fill="none" stroke="#ff2a78" stroke-width="0.7" stroke-linejoin="miter"/>
<polyline points="45.7,293.8 50.9,293.8 57,292 62,291.3 69.5,287.3 81.2,265.4 90.3,245.9" fill="none" stroke="#ff2a78" stroke-width="0.7" stroke-linejoin="miter"/>
<rect x="44.45" y="292.55" width="2.5" height="2.5" fill="#ff2a78"/>
<rect x="49.65" y="292.55" width="2.5" height="2.5" fill="#ff2a78"/>
<rect x="55.75" y="290.05" width="2.5" height="2.5" fill="#ff2a78"/>
<rect x="61.25" y="288.75" width="2.5" height="2.5" fill="#ff2a78"/>
<rect x="68.25" y="281.85" width="2.5" height="2.5" fill="#ff2a78"/>
<rect x="72.65" y="278.25" width="2.5" height="2.5" fill="#ff2a78"/>
<rect x="77.35" y="247.35" width="2.5" height="2.5" fill="#ff2a78"/>
<rect x="89.05" y="236.15" width="2.5" height="2.5" fill="#ff2a78"/>
<rect x="44.45" y="292.55" width="2.5" height="2.5" fill="#ff2a78"/>
<rect x="49.65" y="292.55" width="2.5" height="2.5" fill="#ff2a78"/>
<rect x="55.75" y="290.75" width="2.5" height="2.5" fill="#ff2a78"/>
<rect x="60.75" y="290.05" width="2.5" height="2.5" fill="#ff2a78"/>
<rect x="68.25" y="286.05" width="2.5" height="2.5" fill="#ff2a78"/>
<rect x="79.95" y="264.15" width="2.5" height="2.5" fill="#ff2a78"/>
<rect x="89.05" y="244.65" width="2.5" height="2.5" fill="#ff2a78"/>
<line x1="167.6" y1="232.1" x2="167.6" y2="294.95" stroke="#000000" stroke-width="1.1"/>
<line x1="165.3" y1="294.4" x2="167.6" y2="294.4" stroke="#000000" stroke-width="0.9"/>
<text x="164.4" y="296.02" font-size="4.5" font-weight="bold" text-anchor="end">0</text>
<line x1="165.3" y1="278.9" x2="167.6" y2="278.9" stroke="#000000" stroke-width="0.9"/>
<text x="164.4" y="280.52" font-size="4.5" font-weight="bold" text-anchor="end">500</text>
<line x1="165.3" y1="263.4" x2="167.6" y2="263.4" stroke="#000000" stroke-width="0.9"/>
<text x="164.4" y="265.02" font-size="4.5" font-weight="bold" text-anchor="end">1000</text>
<line x1="165.3" y1="247.9" x2="167.6" y2="247.9" stroke="#000000" stroke-width="0.9"/>
<text x="164.4" y="249.52" font-size="4.5" font-weight="bold" text-anchor="end">1500</text>
<line x1="165.3" y1="232.4" x2="167.6" y2="232.4" stroke="#000000" stroke-width="0.9"/>
<text x="164.4" y="234.02" font-size="4.5" font-weight="bold" text-anchor="end">2000</text>
<line x1="167.05" y1="294.4" x2="261.8" y2="294.4" stroke="#000000" stroke-width="1.1"/>
<line x1="167.6" y1="294.4" x2="167.6" y2="296.6" stroke="#000000" stroke-width="0.9"/>
<text x="167.6" y="302" font-size="4.9" text-anchor="middle">0</text>
<line x1="191.15" y1="294.4" x2="191.15" y2="296.6" stroke="#000000" stroke-width="0.9"/>
<text x="191.15" y="302" font-size="4.9" text-anchor="middle">10</text>
<line x1="214.7" y1="294.4" x2="214.7" y2="296.6" stroke="#000000" stroke-width="0.9"/>
<text x="214.7" y="302" font-size="4.9" text-anchor="middle">20</text>
<line x1="238.25" y1="294.4" x2="238.25" y2="296.6" stroke="#000000" stroke-width="0.9"/>
<text x="238.25" y="302" font-size="4.9" text-anchor="middle">30</text>
<line x1="261.8" y1="294.4" x2="261.8" y2="296.6" stroke="#000000" stroke-width="0.9"/>
<text x="261.8" y="302" font-size="4.9" text-anchor="middle">40</text>
<text x="214.7" y="224" font-size="5.9" font-weight="bold" text-anchor="middle">Rechallenge MC38-HER2T (R)</text>
<text x="214.5" y="309" font-size="4.97" font-weight="bold" text-anchor="middle">Days post-implantation</text>
<text x="146.66" y="263.3" font-size="4.9" font-weight="bold" text-anchor="middle" transform="rotate(-90 146.66 263.3)">Tumour volume (mm<tspan font-size="3.19" dy="-1.72">3</tspan><tspan dy="1.72">)</tspan></text>
<polyline points="181,291 186,290.8 191,290.5 196,290.6 201,290.3 207.5,288.7 214.6,280.3 219.1,278.2 228.6,264.2 235.8,252.4" fill="none" stroke="#000000" stroke-width="0.7" stroke-linejoin="miter"/>
<polyline points="182,291.3 187,291 192,290.2 197,290.8 202,290.6 205.7,290.5 212,282.8 228.6,270.8 235.8,260.1" fill="none" stroke="#000000" stroke-width="0.7" stroke-linejoin="miter"/>
<polyline points="183,291 188,290.5 193,291 198,290.4 204,290.9 210,290.3 214,290 219.1,282.3 229,280.3 238.2,262.6" fill="none" stroke="#000000" stroke-width="0.7" stroke-linejoin="miter"/>
<polyline points="181.5,290.7 186.5,291.2 191.5,290.8 196.5,290.2 201.5,291 207,290.7 216.9,289 229,283.6 233,264.6" fill="none" stroke="#000000" stroke-width="0.7" stroke-linejoin="miter"/>
<polyline points="184,290.6 189,291.3 194,290.5 199,291 205,291.2 210.5,290.8 216.9,290" fill="none" stroke="#000000" stroke-width="0.7" stroke-linejoin="miter"/>
<circle cx="181" cy="291" r="1.15" fill="#000000"/>
<circle cx="186" cy="290.8" r="1.15" fill="#000000"/>
<circle cx="191" cy="290.5" r="1.15" fill="#000000"/>
<circle cx="196" cy="290.6" r="1.15" fill="#000000"/>
<circle cx="201" cy="290.3" r="1.15" fill="#000000"/>
<circle cx="207.5" cy="288.7" r="1.15" fill="#000000"/>
<circle cx="214.6" cy="280.3" r="1.15" fill="#000000"/>
<circle cx="219.1" cy="278.2" r="1.15" fill="#000000"/>
<circle cx="228.6" cy="264.2" r="1.15" fill="#000000"/>
<circle cx="235.8" cy="252.4" r="1.15" fill="#000000"/>
<circle cx="182" cy="291.3" r="1.15" fill="#000000"/>
<circle cx="187" cy="291" r="1.15" fill="#000000"/>
<circle cx="192" cy="290.2" r="1.15" fill="#000000"/>
<circle cx="197" cy="290.8" r="1.15" fill="#000000"/>
<circle cx="202" cy="290.6" r="1.15" fill="#000000"/>
<circle cx="205.7" cy="290.5" r="1.15" fill="#000000"/>
<circle cx="212" cy="282.8" r="1.15" fill="#000000"/>
<circle cx="228.6" cy="270.8" r="1.15" fill="#000000"/>
<circle cx="235.8" cy="260.1" r="1.15" fill="#000000"/>
<circle cx="183" cy="291" r="1.15" fill="#000000"/>
<circle cx="188" cy="290.5" r="1.15" fill="#000000"/>
<circle cx="193" cy="291" r="1.15" fill="#000000"/>
<circle cx="198" cy="290.4" r="1.15" fill="#000000"/>
<circle cx="204" cy="290.9" r="1.15" fill="#000000"/>
<circle cx="210" cy="290.3" r="1.15" fill="#000000"/>
<circle cx="214" cy="290" r="1.15" fill="#000000"/>
<circle cx="219.1" cy="282.3" r="1.15" fill="#000000"/>
<circle cx="229" cy="280.3" r="1.15" fill="#000000"/>
<circle cx="238.2" cy="262.6" r="1.15" fill="#000000"/>
<circle cx="181.5" cy="290.7" r="1.15" fill="#000000"/>
<circle cx="186.5" cy="291.2" r="1.15" fill="#000000"/>
<circle cx="191.5" cy="290.8" r="1.15" fill="#000000"/>
<circle cx="196.5" cy="290.2" r="1.15" fill="#000000"/>
<circle cx="201.5" cy="291" r="1.15" fill="#000000"/>
<circle cx="207" cy="290.7" r="1.15" fill="#000000"/>
<circle cx="216.9" cy="289" r="1.15" fill="#000000"/>
<circle cx="229" cy="283.6" r="1.15" fill="#000000"/>
<circle cx="233" cy="264.6" r="1.15" fill="#000000"/>
<circle cx="184" cy="290.6" r="1.15" fill="#000000"/>
<circle cx="189" cy="291.3" r="1.15" fill="#000000"/>
<circle cx="194" cy="290.5" r="1.15" fill="#000000"/>
<circle cx="199" cy="291" r="1.15" fill="#000000"/>
<circle cx="205" cy="291.2" r="1.15" fill="#000000"/>
<circle cx="210.5" cy="290.8" r="1.15" fill="#000000"/>
<circle cx="216.9" cy="290" r="1.15" fill="#000000"/>
<polyline points="187.8,293.6 193.4,293.8 198.7,293.8 200.3,293.8 205.1,293.8 210.3,293.8 214.3,293.8 219.1,293.8 226.1,293.8 231,293.8" fill="none" stroke="#ff2a78" stroke-width="0.7" stroke-linejoin="miter"/>
<rect x="186.3" y="292.1" width="3" height="3" fill="#ff2a78"/>
<rect x="191.9" y="292.3" width="3" height="3" fill="#ff2a78"/>
<rect x="197.2" y="292.3" width="3" height="3" fill="#ff2a78"/>
<rect x="198.8" y="292.3" width="3" height="3" fill="#ff2a78"/>
<rect x="203.6" y="292.3" width="3" height="3" fill="#ff2a78"/>
<rect x="208.8" y="292.3" width="3" height="3" fill="#ff2a78"/>
<rect x="212.8" y="292.3" width="3" height="3" fill="#ff2a78"/>
<rect x="217.6" y="292.3" width="3" height="3" fill="#ff2a78"/>
<rect x="224.6" y="292.3" width="3" height="3" fill="#ff2a78"/>
<rect x="229.5" y="292.3" width="3" height="3" fill="#ff2a78"/>
<line x1="168.5" y1="316.6" x2="175.5" y2="316.6" stroke="#000000" stroke-width="0.7"/>
<circle cx="172" cy="316.6" r="1.15" fill="#000000"/>
<text x="180" y="318.4" font-size="5">Naive (n=5)</text>
<line x1="168.5" y1="325.4" x2="175.5" y2="325.4" stroke="#ff2a78" stroke-width="0.7"/>
<rect x="170.5" y="323.9" width="3" height="3" fill="#ff2a78"/>
<text x="180" y="327.2" font-size="5">VSVΔ51-HER2T i.t. + VV-αHER2-TCE i.t. (n=2)</text>
<line x1="35.3" y1="587.2" x2="35.3" y2="655.05" stroke="#000000" stroke-width="1.1"/>
<line x1="33" y1="654.5" x2="35.3" y2="654.5" stroke="#000000" stroke-width="0.9"/>
<text x="32.1" y="656.25" font-size="4.85" font-weight="bold" text-anchor="end">0</text>
<line x1="33" y1="641.1" x2="35.3" y2="641.1" stroke="#000000" stroke-width="0.9"/>
<text x="32.1" y="642.85" font-size="4.85" font-weight="bold" text-anchor="end">500</text>
<line x1="33" y1="627.7" x2="35.3" y2="627.7" stroke="#000000" stroke-width="0.9"/>
<text x="32.1" y="629.45" font-size="4.85" font-weight="bold" text-anchor="end">1000</text>
<line x1="33" y1="614.3" x2="35.3" y2="614.3" stroke="#000000" stroke-width="0.9"/>
<text x="32.1" y="616.05" font-size="4.85" font-weight="bold" text-anchor="end">1500</text>
<line x1="33" y1="600.9" x2="35.3" y2="600.9" stroke="#000000" stroke-width="0.9"/>
<text x="32.1" y="602.65" font-size="4.85" font-weight="bold" text-anchor="end">2000</text>
<line x1="33" y1="587.5" x2="35.3" y2="587.5" stroke="#000000" stroke-width="0.9"/>
<text x="32.1" y="589.25" font-size="4.85" font-weight="bold" text-anchor="end">2500</text>
<line x1="34.75" y1="654.5" x2="136.1" y2="654.5" stroke="#000000" stroke-width="1.1"/>
<line x1="35.3" y1="654.5" x2="35.3" y2="656.7" stroke="#000000" stroke-width="0.9"/>
<text x="35.3" y="662.7" font-size="5.25" text-anchor="middle">0</text>
<line x1="60.5" y1="654.5" x2="60.5" y2="656.7" stroke="#000000" stroke-width="0.9"/>
<text x="60.5" y="662.7" font-size="5.25" text-anchor="middle">10</text>
<line x1="85.7" y1="654.5" x2="85.7" y2="656.7" stroke="#000000" stroke-width="0.9"/>
<text x="85.7" y="662.7" font-size="5.25" text-anchor="middle">20</text>
<line x1="110.9" y1="654.5" x2="110.9" y2="656.7" stroke="#000000" stroke-width="0.9"/>
<text x="110.9" y="662.7" font-size="5.25" text-anchor="middle">30</text>
<line x1="136.1" y1="654.5" x2="136.1" y2="656.7" stroke="#000000" stroke-width="0.9"/>
<text x="136.1" y="662.7" font-size="5.25" text-anchor="middle">40</text>
<text x="86" y="579" font-size="6.35" font-weight="bold" text-anchor="middle">Rechallenge CT26 - Parental (L)</text>
<text x="86" y="671" font-size="5.43" font-weight="bold" text-anchor="middle">Days post-implantation</text>
<text x="12.04" y="621" font-size="5.4" font-weight="bold" text-anchor="middle" transform="rotate(-90 12.04 621)">Tumour volume (mm<tspan font-size="3.51" dy="-1.89">3</tspan><tspan dy="1.89">)</tspan></text>
<polyline points="49.5,652 52,652.2 55,652 58,651.5 61,651.8 64,651 67,650.5 70,650 73,649.5 77.8,647 82.8,639.9 88.6,638.2 98.1,622.9 105.8,602.7" fill="none" stroke="#000000" stroke-width="0.7" stroke-linejoin="miter"/>
<polyline points="50,652.3 53,651.8 56,652.4 59,651.6 62,651.2 65,651 68.5,649.8 73,649 81.1,646.5 85.5,644.8 88.6,641.5 93.7,636.1 103.6,623.5 111.2,605.4" fill="none" stroke="#000000" stroke-width="0.7" stroke-linejoin="miter"/>
<polyline points="51,652 54,652.5 57,652 60,651.5 63,651.8 66,650.8 69,650.2 74,649.5 85.5,648.1 93.7,641 101.1,632 108.5,618.5" fill="none" stroke="#000000" stroke-width="0.7" stroke-linejoin="miter"/>
<polyline points="49.8,652.4 52.5,652 55.5,652.3 59.5,651.5 63.5,651.4 67,650.5 72.5,650 78.7,652 88.8,647.6 101.1,635.3 108.5,621.6" fill="none" stroke="#000000" stroke-width="0.7" stroke-linejoin="miter"/>
<polyline points="50.5,652.1 54,651.7 57.5,652.2 61,651.3 65,650.8 70,650 76,649 81.1,646.5 88.6,641.5 101.1,638.8 105.8,606" fill="none" stroke="#000000" stroke-width="0.7" stroke-linejoin="miter"/>
<circle cx="49.5" cy="652" r="1.3" fill="#000000"/>
<circle cx="52" cy="652.2" r="1.3" fill="#000000"/>
<circle cx="55" cy="652" r="1.3" fill="#000000"/>
<circle cx="58" cy="651.5" r="1.3" fill="#000000"/>
<circle cx="61" cy="651.8" r="1.3" fill="#000000"/>
<circle cx="64" cy="651" r="1.3" fill="#000000"/>
<circle cx="67" cy="650.5" r="1.3" fill="#000000"/>
<circle cx="70" cy="650" r="1.3" fill="#000000"/>
<circle cx="73" cy="649.5" r="1.3" fill="#000000"/>
<circle cx="77.8" cy="647" r="1.3" fill="#000000"/>
<circle cx="82.8" cy="639.9" r="1.3" fill="#000000"/>
<circle cx="88.6" cy="638.2" r="1.3" fill="#000000"/>
<circle cx="98.1" cy="622.9" r="1.3" fill="#000000"/>
<circle cx="105.8" cy="602.7" r="1.3" fill="#000000"/>
<circle cx="50" cy="652.3" r="1.3" fill="#000000"/>
<circle cx="53" cy="651.8" r="1.3" fill="#000000"/>
<circle cx="56" cy="652.4" r="1.3" fill="#000000"/>
<circle cx="59" cy="651.6" r="1.3" fill="#000000"/>
<circle cx="62" cy="651.2" r="1.3" fill="#000000"/>
<circle cx="65" cy="651" r="1.3" fill="#000000"/>
<circle cx="68.5" cy="649.8" r="1.3" fill="#000000"/>
<circle cx="73" cy="649" r="1.3" fill="#000000"/>
<circle cx="81.1" cy="646.5" r="1.3" fill="#000000"/>
<circle cx="85.5" cy="644.8" r="1.3" fill="#000000"/>
<circle cx="88.6" cy="641.5" r="1.3" fill="#000000"/>
<circle cx="93.7" cy="636.1" r="1.3" fill="#000000"/>
<circle cx="103.6" cy="623.5" r="1.3" fill="#000000"/>
<circle cx="111.2" cy="605.4" r="1.3" fill="#000000"/>
<circle cx="51" cy="652" r="1.3" fill="#000000"/>
<circle cx="54" cy="652.5" r="1.3" fill="#000000"/>
<circle cx="57" cy="652" r="1.3" fill="#000000"/>
<circle cx="60" cy="651.5" r="1.3" fill="#000000"/>
<circle cx="63" cy="651.8" r="1.3" fill="#000000"/>
<circle cx="66" cy="650.8" r="1.3" fill="#000000"/>
<circle cx="69" cy="650.2" r="1.3" fill="#000000"/>
<circle cx="74" cy="649.5" r="1.3" fill="#000000"/>
<circle cx="85.5" cy="648.1" r="1.3" fill="#000000"/>
<circle cx="93.7" cy="641" r="1.3" fill="#000000"/>
<circle cx="101.1" cy="632" r="1.3" fill="#000000"/>
<circle cx="108.5" cy="618.5" r="1.3" fill="#000000"/>
<circle cx="49.8" cy="652.4" r="1.3" fill="#000000"/>
<circle cx="52.5" cy="652" r="1.3" fill="#000000"/>
<circle cx="55.5" cy="652.3" r="1.3" fill="#000000"/>
<circle cx="59.5" cy="651.5" r="1.3" fill="#000000"/>
<circle cx="63.5" cy="651.4" r="1.3" fill="#000000"/>
<circle cx="67" cy="650.5" r="1.3" fill="#000000"/>
<circle cx="72.5" cy="650" r="1.3" fill="#000000"/>
<circle cx="78.7" cy="652" r="1.3" fill="#000000"/>
<circle cx="88.8" cy="647.6" r="1.3" fill="#000000"/>
<circle cx="101.1" cy="635.3" r="1.3" fill="#000000"/>
<circle cx="108.5" cy="621.6" r="1.3" fill="#000000"/>
<circle cx="50.5" cy="652.1" r="1.3" fill="#000000"/>
<circle cx="54" cy="651.7" r="1.3" fill="#000000"/>
<circle cx="57.5" cy="652.2" r="1.3" fill="#000000"/>
<circle cx="61" cy="651.3" r="1.3" fill="#000000"/>
<circle cx="65" cy="650.8" r="1.3" fill="#000000"/>
<circle cx="70" cy="650" r="1.3" fill="#000000"/>
<circle cx="76" cy="649" r="1.3" fill="#000000"/>
<circle cx="81.1" cy="646.5" r="1.3" fill="#000000"/>
<circle cx="88.6" cy="641.5" r="1.3" fill="#000000"/>
<circle cx="101.1" cy="638.8" r="1.3" fill="#000000"/>
<circle cx="105.8" cy="606" r="1.3" fill="#000000"/>
<polyline points="57,654.3 61.2,654.3 64.2,654.3 66.9,654.3 71.8,654.3 74.6,654.3 81.1,654.3 85.5,654.3 91,654.3 98.4,654.3 103.6,654.3 105,654.3 111.2,654.3" fill="none" stroke="#ff2a78" stroke-width="0.7" stroke-linejoin="miter"/>
<rect x="55.55" y="652.85" width="2.9" height="2.9" fill="#ff2a78"/>
<rect x="59.75" y="652.85" width="2.9" height="2.9" fill="#ff2a78"/>
<rect x="62.75" y="652.85" width="2.9" height="2.9" fill="#ff2a78"/>
<rect x="65.45" y="652.85" width="2.9" height="2.9" fill="#ff2a78"/>
<rect x="70.35" y="652.85" width="2.9" height="2.9" fill="#ff2a78"/>
<rect x="73.15" y="652.85" width="2.9" height="2.9" fill="#ff2a78"/>
<rect x="79.65" y="652.85" width="2.9" height="2.9" fill="#ff2a78"/>
<rect x="84.05" y="652.85" width="2.9" height="2.9" fill="#ff2a78"/>
<rect x="89.55" y="652.85" width="2.9" height="2.9" fill="#ff2a78"/>
<rect x="96.95" y="652.85" width="2.9" height="2.9" fill="#ff2a78"/>
<rect x="102.15" y="652.85" width="2.9" height="2.9" fill="#ff2a78"/>
<rect x="103.55" y="652.85" width="2.9" height="2.9" fill="#ff2a78"/>
<rect x="109.75" y="652.85" width="2.9" height="2.9" fill="#ff2a78"/>
<line x1="193.2" y1="585.2" x2="193.2" y2="646.05" stroke="#000000" stroke-width="1.1"/>
<line x1="190.9" y1="645.5" x2="193.2" y2="645.5" stroke="#000000" stroke-width="0.9"/>
<text x="190" y="647.08" font-size="4.4" font-weight="bold" text-anchor="end">0</text>
<line x1="190.9" y1="633.5" x2="193.2" y2="633.5" stroke="#000000" stroke-width="0.9"/>
<text x="190" y="635.08" font-size="4.4" font-weight="bold" text-anchor="end">500</text>
<line x1="190.9" y1="621.5" x2="193.2" y2="621.5" stroke="#000000" stroke-width="0.9"/>
<text x="190" y="623.08" font-size="4.4" font-weight="bold" text-anchor="end">1000</text>
<line x1="190.9" y1="609.5" x2="193.2" y2="609.5" stroke="#000000" stroke-width="0.9"/>
<text x="190" y="611.08" font-size="4.4" font-weight="bold" text-anchor="end">1500</text>
<line x1="190.9" y1="597.5" x2="193.2" y2="597.5" stroke="#000000" stroke-width="0.9"/>
<text x="190" y="599.08" font-size="4.4" font-weight="bold" text-anchor="end">2000</text>
<line x1="190.9" y1="585.5" x2="193.2" y2="585.5" stroke="#000000" stroke-width="0.9"/>
<text x="190" y="587.08" font-size="4.4" font-weight="bold" text-anchor="end">2500</text>
<line x1="192.65" y1="645.5" x2="284" y2="645.5" stroke="#000000" stroke-width="1.1"/>
<line x1="193.2" y1="645.5" x2="193.2" y2="647.7" stroke="#000000" stroke-width="0.9"/>
<text x="193.2" y="653.3" font-size="4.8" text-anchor="middle">0</text>
<line x1="215.9" y1="645.5" x2="215.9" y2="647.7" stroke="#000000" stroke-width="0.9"/>
<text x="215.9" y="653.3" font-size="4.8" text-anchor="middle">10</text>
<line x1="238.6" y1="645.5" x2="238.6" y2="647.7" stroke="#000000" stroke-width="0.9"/>
<text x="238.6" y="653.3" font-size="4.8" text-anchor="middle">20</text>
<line x1="261.3" y1="645.5" x2="261.3" y2="647.7" stroke="#000000" stroke-width="0.9"/>
<text x="261.3" y="653.3" font-size="4.8" text-anchor="middle">30</text>
<line x1="284" y1="645.5" x2="284" y2="647.7" stroke="#000000" stroke-width="0.9"/>
<text x="284" y="653.3" font-size="4.8" text-anchor="middle">40</text>
<text x="238.5" y="578" font-size="5.69" font-weight="bold" text-anchor="middle">Rechallenge CT26-HER2T (R)</text>
<text x="238.3" y="660" font-size="4.76" font-weight="bold" text-anchor="middle">Days post-implantation</text>
<text x="172.51" y="615.5" font-size="4.75" font-weight="bold" text-anchor="middle" transform="rotate(-90 172.51 615.5)">Tumour volume (mm<tspan font-size="3.09" dy="-1.66">3</tspan><tspan dy="1.66">)</tspan></text>
<polyline points="206,643 209,643.5 212,642.8 215,642.5 218,642.7 221,642 224,642.6 228,642.2 231.2,639.9 240.7,631.9 251.9,622.7 258.5,611.4" fill="none" stroke="#000000" stroke-width="0.7" stroke-linejoin="miter"/>
<polyline points="207,643.4 210,643 213,642.4 216,643 219,642.2 222,642.8 226,642 229.6,641.8 235.8,637 240.7,634.5 251.9,627.8 258.5,615.1" fill="none" stroke="#000000" stroke-width="0.7" stroke-linejoin="miter"/>
<polyline points="208,643 211,642.6 214,643.2 217,642.3 220,642.9 223.5,642.2 227,642.8 237.8,640.7 251.9,630.5 258.5,617.9" fill="none" stroke="#000000" stroke-width="0.7" stroke-linejoin="miter"/>
<polyline points="206.5,643.6 209.5,642.8 213,643.2 216.5,642.6 220.5,643 225,642.5 230,641.5 240.7,639.6 251.9,632.9 256,628.1" fill="none" stroke="#000000" stroke-width="0.7" stroke-linejoin="miter"/>
<polyline points="208.5,643.2 212,643.4 215.5,642.9 219.5,643.2 224,642.9 228.5,642.4 233,641 245.2,637.6 251.9,636.8 261.1,626.1" fill="none" stroke="#000000" stroke-width="0.7" stroke-linejoin="miter"/>
<circle cx="206" cy="643" r="1.1" fill="#000000"/>
<circle cx="209" cy="643.5" r="1.1" fill="#000000"/>
<circle cx="212" cy="642.8" r="1.1" fill="#000000"/>
<circle cx="215" cy="642.5" r="1.1" fill="#000000"/>
<circle cx="218" cy="642.7" r="1.1" fill="#000000"/>
<circle cx="221" cy="642" r="1.1" fill="#000000"/>
<circle cx="224" cy="642.6" r="1.1" fill="#000000"/>
<circle cx="228" cy="642.2" r="1.1" fill="#000000"/>
<circle cx="231.2" cy="639.9" r="1.1" fill="#000000"/>
<circle cx="240.7" cy="631.9" r="1.1" fill="#000000"/>
<circle cx="251.9" cy="622.7" r="1.1" fill="#000000"/>
<circle cx="258.5" cy="611.4" r="1.1" fill="#000000"/>
<circle cx="207" cy="643.4" r="1.1" fill="#000000"/>
<circle cx="210" cy="643" r="1.1" fill="#000000"/>
<circle cx="213" cy="642.4" r="1.1" fill="#000000"/>
<circle cx="216" cy="643" r="1.1" fill="#000000"/>
<circle cx="219" cy="642.2" r="1.1" fill="#000000"/>
<circle cx="222" cy="642.8" r="1.1" fill="#000000"/>
<circle cx="226" cy="642" r="1.1" fill="#000000"/>
<circle cx="229.6" cy="641.8" r="1.1" fill="#000000"/>
<circle cx="235.8" cy="637" r="1.1" fill="#000000"/>
<circle cx="240.7" cy="634.5" r="1.1" fill="#000000"/>
<circle cx="251.9" cy="627.8" r="1.1" fill="#000000"/>
<circle cx="258.5" cy="615.1" r="1.1" fill="#000000"/>
<circle cx="208" cy="643" r="1.1" fill="#000000"/>
<circle cx="211" cy="642.6" r="1.1" fill="#000000"/>
<circle cx="214" cy="643.2" r="1.1" fill="#000000"/>
<circle cx="217" cy="642.3" r="1.1" fill="#000000"/>
<circle cx="220" cy="642.9" r="1.1" fill="#000000"/>
<circle cx="223.5" cy="642.2" r="1.1" fill="#000000"/>
<circle cx="227" cy="642.8" r="1.1" fill="#000000"/>
<circle cx="237.8" cy="640.7" r="1.1" fill="#000000"/>
<circle cx="251.9" cy="630.5" r="1.1" fill="#000000"/>
<circle cx="258.5" cy="617.9" r="1.1" fill="#000000"/>
<circle cx="206.5" cy="643.6" r="1.1" fill="#000000"/>
<circle cx="209.5" cy="642.8" r="1.1" fill="#000000"/>
<circle cx="213" cy="643.2" r="1.1" fill="#000000"/>
<circle cx="216.5" cy="642.6" r="1.1" fill="#000000"/>
<circle cx="220.5" cy="643" r="1.1" fill="#000000"/>
<circle cx="225" cy="642.5" r="1.1" fill="#000000"/>
<circle cx="230" cy="641.5" r="1.1" fill="#000000"/>
<circle cx="240.7" cy="639.6" r="1.1" fill="#000000"/>
<circle cx="251.9" cy="632.9" r="1.1" fill="#000000"/>
<circle cx="256" cy="628.1" r="1.1" fill="#000000"/>
<circle cx="208.5" cy="643.2" r="1.1" fill="#000000"/>
<circle cx="212" cy="643.4" r="1.1" fill="#000000"/>
<circle cx="215.5" cy="642.9" r="1.1" fill="#000000"/>
<circle cx="219.5" cy="643.2" r="1.1" fill="#000000"/>
<circle cx="224" cy="642.9" r="1.1" fill="#000000"/>
<circle cx="228.5" cy="642.4" r="1.1" fill="#000000"/>
<circle cx="233" cy="641" r="1.1" fill="#000000"/>
<circle cx="245.2" cy="637.6" r="1.1" fill="#000000"/>
<circle cx="251.9" cy="636.8" r="1.1" fill="#000000"/>
<circle cx="261.1" cy="626.1" r="1.1" fill="#000000"/>
<polyline points="212.3,645.3 215.8,645.3 217.9,645.3 219.9,645.3 221.5,645.3 231.7,645.3 233.2,645.3 235.3,645.3 237.8,645.3 242.7,645.3 249.6,645.3 254.2,645.3 255.7,645.3 261.1,645.3" fill="none" stroke="#ff2a78" stroke-width="0.7" stroke-linejoin="miter"/>
<rect x="210.9" y="643.9" width="2.8" height="2.8" fill="#ff2a78"/>
<rect x="214.4" y="643.9" width="2.8" height="2.8" fill="#ff2a78"/>
<rect x="216.5" y="643.9" width="2.8" height="2.8" fill="#ff2a78"/>
<rect x="218.5" y="643.9" width="2.8" height="2.8" fill="#ff2a78"/>
<rect x="220.1" y="643.9" width="2.8" height="2.8" fill="#ff2a78"/>
<rect x="230.3" y="643.9" width="2.8" height="2.8" fill="#ff2a78"/>
<rect x="231.8" y="643.9" width="2.8" height="2.8" fill="#ff2a78"/>
<rect x="233.9" y="643.9" width="2.8" height="2.8" fill="#ff2a78"/>
<rect x="236.4" y="643.9" width="2.8" height="2.8" fill="#ff2a78"/>
<rect x="241.3" y="643.9" width="2.8" height="2.8" fill="#ff2a78"/>
<rect x="248.2" y="643.9" width="2.8" height="2.8" fill="#ff2a78"/>
<rect x="252.8" y="643.9" width="2.8" height="2.8" fill="#ff2a78"/>
<rect x="254.3" y="643.9" width="2.8" height="2.8" fill="#ff2a78"/>
<rect x="259.7" y="643.9" width="2.8" height="2.8" fill="#ff2a78"/>
<line x1="191" y1="667" x2="197.8" y2="667" stroke="#000000" stroke-width="0.7"/>
<circle cx="194.4" cy="667" r="1.1" fill="#000000"/>
<text x="201" y="668.75" font-size="4.8">Naive (n=5)</text>
<line x1="191" y1="675.6" x2="197.8" y2="675.6" stroke="#ff2a78" stroke-width="0.7"/>
<rect x="193" y="674.2" width="2.8" height="2.8" fill="#ff2a78"/>
<text x="201" y="677.35" font-size="4.8">VSVΔ51-HER2T i.t. + VV-αHER2-TCE i.t. (n=2)</text>
</svg>
</body></html>
